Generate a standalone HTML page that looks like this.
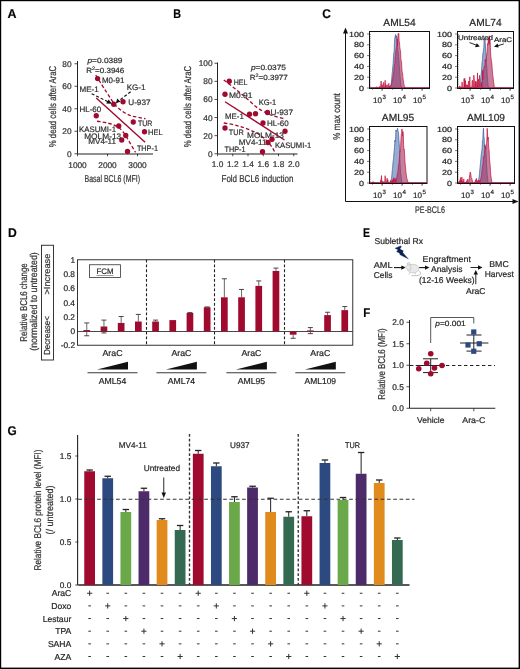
<!DOCTYPE html>
<html><head><meta charset="utf-8"><style>
html,body{margin:0;padding:0;background:#fff;}
svg{display:block;will-change:transform;}
text{font-family:"Liberation Sans", sans-serif;stroke:#333;stroke-width:0.22px;text-rendering:geometricPrecision;}
</style></head><body>
<svg width="520" height="669" viewBox="0 0 520 669">
<rect width="520" height="669" fill="#fff"/>
<rect x="0" y="0" width="520" height="1.2" fill="#000"/><rect x="0" y="0" width="1.2" height="669" fill="#000"/><rect x="518.6" y="0" width="1.4" height="669" fill="#000"/><rect x="0" y="667.6" width="520" height="1.4" fill="#000"/>
<text x="7.6" y="18.1" font-size="12.7" text-anchor="start" font-weight="bold" fill="#000" textLength="9.0" lengthAdjust="spacingAndGlyphs" >A</text>
<text x="173.3" y="18.1" font-size="12.7" text-anchor="start" font-weight="bold" fill="#000" textLength="7.8" lengthAdjust="spacingAndGlyphs" >B</text>
<text x="322.2" y="18.1" font-size="12.7" text-anchor="start" font-weight="bold" fill="#000" textLength="8.6" lengthAdjust="spacingAndGlyphs" >C</text>
<text x="7.9" y="236.5" font-size="12.7" text-anchor="start" font-weight="bold" fill="#000" textLength="8.8" lengthAdjust="spacingAndGlyphs" >D</text>
<text x="363.1" y="236.5" font-size="12.7" text-anchor="start" font-weight="bold" fill="#000" textLength="7.0" lengthAdjust="spacingAndGlyphs" >E</text>
<text x="363.3" y="316.9" font-size="12.7" text-anchor="start" font-weight="bold" fill="#000" textLength="7.0" lengthAdjust="spacingAndGlyphs" >F</text>
<text x="7.5" y="435.2" font-size="12.7" text-anchor="start" font-weight="bold" fill="#000" textLength="9.2" lengthAdjust="spacingAndGlyphs" >G</text>
<line x1="77.5" y1="61" x2="77.5" y2="153.75" stroke="#222" stroke-width="1" />
<line x1="77.5" y1="154" x2="153" y2="154" stroke="#222" stroke-width="1.2" />
<line x1="74.5" y1="153.75" x2="77.5" y2="153.75" stroke="#222" stroke-width="0.8" />
<text x="71.5" y="156.75" font-size="8.3" text-anchor="end" font-weight="normal" fill="#333" >0</text>
<line x1="74.5" y1="131.25" x2="77.5" y2="131.25" stroke="#222" stroke-width="0.8" />
<text x="71.5" y="134.25" font-size="8.3" text-anchor="end" font-weight="normal" fill="#333" >20</text>
<line x1="74.5" y1="108.75" x2="77.5" y2="108.75" stroke="#222" stroke-width="0.8" />
<text x="71.5" y="111.75" font-size="8.3" text-anchor="end" font-weight="normal" fill="#333" >40</text>
<line x1="74.5" y1="86.25" x2="77.5" y2="86.25" stroke="#222" stroke-width="0.8" />
<text x="71.5" y="89.25" font-size="8.3" text-anchor="end" font-weight="normal" fill="#333" >60</text>
<line x1="74.5" y1="63.75" x2="77.5" y2="63.75" stroke="#222" stroke-width="0.8" />
<text x="71.5" y="66.75" font-size="8.3" text-anchor="end" font-weight="normal" fill="#333" >80</text>
<line x1="77.5" y1="153.75" x2="77.5" y2="156.25" stroke="#222" stroke-width="0.8" />
<text x="77.5" y="168" font-size="8.3" text-anchor="middle" font-weight="normal" fill="#333" >1000</text>
<line x1="107.5" y1="153.75" x2="107.5" y2="156.25" stroke="#222" stroke-width="0.8" />
<text x="107.5" y="168" font-size="8.3" text-anchor="middle" font-weight="normal" fill="#333" >2000</text>
<line x1="137.5" y1="153.75" x2="137.5" y2="156.25" stroke="#222" stroke-width="0.8" />
<text x="137.5" y="168" font-size="8.3" text-anchor="middle" font-weight="normal" fill="#333" >3000</text>
<text x="112.3" y="182.3" font-size="10" text-anchor="middle" font-weight="normal" fill="#333" textLength="55.5" lengthAdjust="spacingAndGlyphs" >Basal BCL6 (MFI)</text>
<text transform="translate(56.2,106.5) rotate(-90)" font-size="10" text-anchor="middle" fill="#333" textLength="81.5" lengthAdjust="spacingAndGlyphs">% dead cells after AraC</text>
<text x="105" y="63" font-size="7.5" text-anchor="middle" font-weight="normal" fill="#333" textLength="35" lengthAdjust="spacingAndGlyphs" ><tspan font-style="italic">p</tspan>=0.0389</text>
<text x="105.3" y="73" font-size="7.5" text-anchor="middle" font-weight="normal" fill="#333" textLength="38" lengthAdjust="spacingAndGlyphs" >R<tspan font-size="5" dy="-3">2</tspan><tspan dy="3">=0.3946</tspan></text>
<line x1="96.25" y1="98" x2="145.1" y2="142.2" stroke="#a00a2e" stroke-width="1.4" />
<path d="M95.75,75 Q108,95 115,105 Q124,114 132.5,116.25 L145.5,118.75" fill="none" stroke="#a00a2e" stroke-width="1.3" stroke-dasharray="3.5,2.2"/>
<path d="M97,121.25 Q112,123 118.7,127.5 Q123,131 125.9,136 L135.5,152.3" fill="none" stroke="#a00a2e" stroke-width="1.3" stroke-dasharray="3.5,2.2"/>
<circle cx="97.6" cy="78.6" r="2.65" fill="#a00a2e"/>
<circle cx="113.75" cy="104.25" r="2.65" fill="#a00a2e"/>
<circle cx="123" cy="101.75" r="2.65" fill="#a00a2e"/>
<circle cx="96.25" cy="115.75" r="2.65" fill="#a00a2e"/>
<circle cx="133.25" cy="122" r="2.65" fill="#a00a2e"/>
<circle cx="144.5" cy="131.75" r="2.65" fill="#a00a2e"/>
<circle cx="118.75" cy="126" r="2.65" fill="#a00a2e"/>
<circle cx="125.75" cy="135.5" r="2.65" fill="#a00a2e"/>
<circle cx="121.75" cy="140" r="2.65" fill="#a00a2e"/>
<circle cx="127.5" cy="151.5" r="2.65" fill="#a00a2e"/>
<line x1="91.7" y1="93.7" x2="108.5" y2="102" stroke="#111" stroke-width="1.1" stroke-dasharray="3,2" />
<path d="M112,103.8 L106.2,103.6 L108.6,99.4 Z" fill="#111"/>
<line x1="130.7" y1="91.7" x2="118.8" y2="100.8" stroke="#111" stroke-width="1.1" stroke-dasharray="3,2" />
<path d="M115.8,103.3 L117.3,98.6 L120.5,101.8 Z" fill="#111"/>
<text x="101.9" y="82.9" font-size="7.9" text-anchor="start" font-weight="normal" fill="#333" textLength="22.5" lengthAdjust="spacingAndGlyphs" >M0-91</text>
<text x="79.5" y="91.9" font-size="7.9" text-anchor="start" font-weight="normal" fill="#333" textLength="19.25" lengthAdjust="spacingAndGlyphs" >ME-1</text>
<text x="126.75" y="89.65" font-size="7.9" text-anchor="start" font-weight="normal" fill="#333" textLength="18.75" lengthAdjust="spacingAndGlyphs" >KG-1</text>
<text x="128.25" y="105.4" font-size="7.9" text-anchor="start" font-weight="normal" fill="#333" textLength="22.25" lengthAdjust="spacingAndGlyphs" >U-937</text>
<text x="79.5" y="111.65" font-size="7.9" text-anchor="start" font-weight="normal" fill="#333" textLength="21.75" lengthAdjust="spacingAndGlyphs" >HL-60</text>
<text x="137.9" y="126.2" font-size="7.9" text-anchor="start" font-weight="normal" fill="#333" textLength="14.4" lengthAdjust="spacingAndGlyphs" >TUR</text>
<text x="148.1" y="135.4" font-size="7.9" text-anchor="start" font-weight="normal" fill="#333" textLength="14.6" lengthAdjust="spacingAndGlyphs" >HEL</text>
<text x="79" y="132.15" font-size="7.9" text-anchor="start" font-weight="normal" fill="#333" textLength="37" lengthAdjust="spacingAndGlyphs" >KASUMI-1</text>
<text x="84.2" y="139.15" font-size="7.9" text-anchor="start" font-weight="normal" fill="#333" textLength="37" lengthAdjust="spacingAndGlyphs" >MOLM-13</text>
<text x="88.3" y="144.15" font-size="7.9" text-anchor="start" font-weight="normal" fill="#333" textLength="27.7" lengthAdjust="spacingAndGlyphs" >MV4-11</text>
<text x="136.9" y="150.9" font-size="7.9" text-anchor="start" font-weight="normal" fill="#333" textLength="21.1" lengthAdjust="spacingAndGlyphs" >THP-1</text>
<line x1="217.5" y1="62.5" x2="217.5" y2="153.75" stroke="#222" stroke-width="1" />
<line x1="217.5" y1="154" x2="297.5" y2="154" stroke="#222" stroke-width="1.2" />
<line x1="214.5" y1="153.75" x2="217.5" y2="153.75" stroke="#222" stroke-width="0.8" />
<text x="212.5" y="156.75" font-size="8.3" text-anchor="end" font-weight="normal" fill="#333" >0</text>
<line x1="214.5" y1="135.65" x2="217.5" y2="135.65" stroke="#222" stroke-width="0.8" />
<text x="212.5" y="138.65" font-size="8.3" text-anchor="end" font-weight="normal" fill="#333" >20</text>
<line x1="214.5" y1="117.55" x2="217.5" y2="117.55" stroke="#222" stroke-width="0.8" />
<text x="212.5" y="120.55" font-size="8.3" text-anchor="end" font-weight="normal" fill="#333" >40</text>
<line x1="214.5" y1="99.45" x2="217.5" y2="99.45" stroke="#222" stroke-width="0.8" />
<text x="212.5" y="102.45" font-size="8.3" text-anchor="end" font-weight="normal" fill="#333" >60</text>
<line x1="214.5" y1="81.35" x2="217.5" y2="81.35" stroke="#222" stroke-width="0.8" />
<text x="212.5" y="84.35" font-size="8.3" text-anchor="end" font-weight="normal" fill="#333" >80</text>
<line x1="214.5" y1="63.249999999999986" x2="217.5" y2="63.249999999999986" stroke="#222" stroke-width="0.8" />
<text x="212.5" y="66.24999999999999" font-size="8.3" text-anchor="end" font-weight="normal" fill="#333" >100</text>
<line x1="217.5" y1="153.75" x2="217.5" y2="156.25" stroke="#222" stroke-width="0.8" />
<text x="217.5" y="167.2" font-size="8.3" text-anchor="middle" font-weight="normal" fill="#333" >1.0</text>
<line x1="232.75" y1="153.75" x2="232.75" y2="156.25" stroke="#222" stroke-width="0.8" />
<text x="232.75" y="167.2" font-size="8.3" text-anchor="middle" font-weight="normal" fill="#333" >1.2</text>
<line x1="248.0" y1="153.75" x2="248.0" y2="156.25" stroke="#222" stroke-width="0.8" />
<text x="248.0" y="167.2" font-size="8.3" text-anchor="middle" font-weight="normal" fill="#333" >1.4</text>
<line x1="263.25" y1="153.75" x2="263.25" y2="156.25" stroke="#222" stroke-width="0.8" />
<text x="263.25" y="167.2" font-size="8.3" text-anchor="middle" font-weight="normal" fill="#333" >1.6</text>
<line x1="278.5" y1="153.75" x2="278.5" y2="156.25" stroke="#222" stroke-width="0.8" />
<text x="278.5" y="167.2" font-size="8.3" text-anchor="middle" font-weight="normal" fill="#333" >1.8</text>
<line x1="293.75" y1="153.75" x2="293.75" y2="156.25" stroke="#222" stroke-width="0.8" />
<text x="293.75" y="167.2" font-size="8.3" text-anchor="middle" font-weight="normal" fill="#333" >2.0</text>
<text x="257.5" y="181.5" font-size="10" text-anchor="middle" font-weight="normal" fill="#333" textLength="72" lengthAdjust="spacingAndGlyphs" >Fold BCL6 induction</text>
<text transform="translate(191.2,106.5) rotate(-90)" font-size="10" text-anchor="middle" fill="#333" textLength="81.5" lengthAdjust="spacingAndGlyphs">% dead cells after AraC</text>
<text x="268.5" y="70" font-size="7.5" text-anchor="middle" font-weight="normal" fill="#333" textLength="35" lengthAdjust="spacingAndGlyphs" ><tspan font-style="italic">p</tspan>=0.0375</text>
<text x="268.8" y="79.5" font-size="7.5" text-anchor="middle" font-weight="normal" fill="#333" textLength="38" lengthAdjust="spacingAndGlyphs" >R<tspan font-size="5" dy="-3">2</tspan><tspan dy="3">=0.3977</tspan></text>
<line x1="225" y1="101.75" x2="284.5" y2="140" stroke="#a00a2e" stroke-width="1.4" />
<path d="M223.75,80 Q240,92 255,106 Q268,116 285,118.75" fill="none" stroke="#a00a2e" stroke-width="1.3" stroke-dasharray="3.5,2.2"/>
<path d="M223.75,123 Q245,126 260,135 Q270,142 275,152.5" fill="none" stroke="#a00a2e" stroke-width="1.3" stroke-dasharray="3.5,2.2"/>
<circle cx="229.25" cy="81.25" r="2.65" fill="#a00a2e"/>
<circle cx="225" cy="94.25" r="2.65" fill="#a00a2e"/>
<circle cx="249.5" cy="114.25" r="2.65" fill="#a00a2e"/>
<circle cx="255.5" cy="113.75" r="2.65" fill="#a00a2e"/>
<circle cx="267.5" cy="112.5" r="2.65" fill="#a00a2e"/>
<circle cx="263" cy="123" r="2.65" fill="#a00a2e"/>
<circle cx="225" cy="128" r="2.65" fill="#a00a2e"/>
<circle cx="272" cy="139.25" r="2.65" fill="#a00a2e"/>
<circle cx="285" cy="131.25" r="2.65" fill="#a00a2e"/>
<circle cx="268" cy="142.5" r="2.65" fill="#a00a2e"/>
<circle cx="262.5" cy="151.75" r="2.65" fill="#a00a2e"/>
<text x="233.75" y="84.9" font-size="7.9" text-anchor="start" font-weight="normal" fill="#333" textLength="13.75" lengthAdjust="spacingAndGlyphs" >HEL</text>
<text x="229" y="97.9" font-size="7.9" text-anchor="start" font-weight="normal" fill="#333" textLength="23.5" lengthAdjust="spacingAndGlyphs" >M0.91</text>
<text x="258.75" y="104.65" font-size="7.9" text-anchor="start" font-weight="normal" fill="#333" textLength="17.5" lengthAdjust="spacingAndGlyphs" >KG-1</text>
<text x="270.5" y="115.4" font-size="7.9" text-anchor="start" font-weight="normal" fill="#333" textLength="22.5" lengthAdjust="spacingAndGlyphs" >U-937</text>
<text x="225" y="119.15" font-size="7.9" text-anchor="start" font-weight="normal" fill="#333" textLength="18.75" lengthAdjust="spacingAndGlyphs" >ME-1</text>
<text x="267" y="125.9" font-size="7.9" text-anchor="start" font-weight="normal" fill="#333" textLength="21.75" lengthAdjust="spacingAndGlyphs" >HL-60</text>
<text x="228.75" y="135.4" font-size="7.9" text-anchor="start" font-weight="normal" fill="#333" textLength="15" lengthAdjust="spacingAndGlyphs" >TUR</text>
<text x="247" y="137.9" font-size="7.9" text-anchor="start" font-weight="normal" fill="#333" textLength="36.9" lengthAdjust="spacingAndGlyphs" >MOLM-13</text>
<text x="238.8" y="144.65" font-size="7.9" text-anchor="start" font-weight="normal" fill="#333" textLength="27.7" lengthAdjust="spacingAndGlyphs" >MV4-11</text>
<text x="275" y="148.4" font-size="7.9" text-anchor="start" font-weight="normal" fill="#333" textLength="36.2" lengthAdjust="spacingAndGlyphs" >KASUMI-1</text>
<text x="224.5" y="152.4" font-size="7.9" text-anchor="start" font-weight="normal" fill="#333" textLength="21" lengthAdjust="spacingAndGlyphs" >THP-1</text>
<path d="M370.1,87.9 L370.10,87.90 L370.43,87.90 L370.77,87.90 L371.10,87.90 L371.44,87.90 L371.77,87.90 L372.10,87.90 L372.44,87.90 L372.77,87.90 L373.11,87.90 L373.44,87.90 L373.78,87.90 L374.11,87.90 L374.44,87.90 L374.78,87.90 L375.11,87.90 L375.45,87.90 L375.78,87.90 L376.11,87.90 L376.45,87.90 L376.78,87.90 L377.12,87.90 L377.45,87.90 L377.78,87.90 L378.12,87.90 L378.45,87.90 L378.79,87.90 L379.12,87.90 L379.45,87.90 L379.79,87.90 L380.12,87.90 L380.46,87.90 L380.79,87.90 L381.12,87.90 L381.46,87.90 L381.79,87.90 L382.13,87.90 L382.46,87.90 L382.80,87.90 L383.13,87.90 L383.46,87.90 L383.80,87.90 L384.13,87.90 L384.47,87.90 L384.80,87.90 L385.13,87.90 L385.47,87.90 L385.80,87.90 L386.14,87.90 L386.47,87.90 L386.80,87.90 L387.14,87.90 L387.47,87.90 L387.81,87.90 L388.14,87.90 L388.48,87.90 L388.81,87.90 L389.14,87.66 L389.48,87.10 L389.81,86.47 L390.15,86.01 L390.48,85.44 L390.81,84.85 L391.15,84.49 L391.48,81.90 L391.82,77.75 L392.15,73.38 L392.48,70.99 L392.82,66.60 L393.15,63.50 L393.49,56.74 L393.82,52.86 L394.15,51.99 L394.49,42.40 L394.82,37.97 L395.16,36.61 L395.49,34.56 L395.82,36.01 L396.16,38.31 L396.49,35.80 L396.83,42.02 L397.16,44.04 L397.50,46.64 L397.83,50.75 L398.16,51.95 L398.50,56.29 L398.83,58.95 L399.17,64.47 L399.50,68.41 L399.83,73.20 L400.17,77.37 L400.50,82.05 L400.84,85.06 L401.17,85.66 L401.50,86.56 L401.84,87.47 L402.17,87.90 L402.51,87.90 L402.84,87.90 L403.18,87.90 L403.51,87.90 L403.84,87.90 L404.18,87.90 L404.51,87.90 L404.85,87.90 L405.18,87.90 L405.51,87.90 L405.85,87.90 L406.18,87.90 L406.52,87.90 L406.85,87.90 L407.18,87.90 L407.52,87.90 L407.85,87.90 L408.19,87.90 L408.52,87.90 L408.85,87.90 L409.19,87.90 L409.52,87.90 L409.86,87.90 L410.19,87.90 L410.52,87.90 L410.86,87.90 L411.19,87.90 L411.53,87.90 L411.86,87.90 L412.20,87.90 L412.53,87.90 L412.86,87.90 L413.20,87.90 L413.53,87.90 L413.87,87.90 L414.20,87.90 L414.53,87.90 L414.87,87.90 L415.20,87.90 L415.54,87.90 L415.87,87.90 L416.20,87.90 L416.54,87.90 L416.87,87.90 L417.21,87.90 L417.54,87.90 L417.88,87.90 L418.21,87.90 L418.54,87.90 L418.88,87.90 L419.21,87.90 L419.55,87.90 L419.88,87.90 L420.21,87.90 L420.55,87.90 L420.88,87.90 L421.22,87.90 L421.55,87.90 L421.88,87.90 L422.22,87.90 L422.55,87.90 L422.89,87.90 L423.22,87.90 L423.55,87.90 L423.89,87.90 L424.22,87.90 L424.56,87.90 L424.89,87.90 L425.22,87.90 L425.56,87.90 L425.89,87.90 L426.23,87.90 L426.56,87.90 L426.90,87.90 L427.23,87.90 L427.56,87.90 L427.90,87.90 L428.23,87.90 L428.57,87.90 L428.90,87.90 L428.9,87.9 Z" fill="#98abd0" stroke="#3a5c9c" stroke-width="0.7" stroke-linejoin="round"/>
<path d="M370.1,87.9 L370.10,87.90 L370.43,87.90 L370.77,87.90 L371.10,87.90 L371.44,87.90 L371.77,87.90 L372.10,87.90 L372.44,87.90 L372.77,87.90 L373.11,87.90 L373.44,87.90 L373.78,87.90 L374.11,87.90 L374.44,87.90 L374.78,87.90 L375.11,87.90 L375.45,87.90 L375.78,87.90 L376.11,87.88 L376.45,86.72 L376.78,87.75 L377.12,87.87 L377.45,87.42 L377.78,87.41 L378.12,87.45 L378.45,87.51 L378.79,87.82 L379.12,87.83 L379.45,86.54 L379.79,87.76 L380.12,86.64 L380.46,85.90 L380.79,85.24 L381.12,81.01 L381.46,87.79 L381.79,87.79 L382.13,84.65 L382.46,86.34 L382.80,87.83 L383.13,85.35 L383.46,82.45 L383.80,83.12 L384.13,87.82 L384.47,87.68 L384.80,87.90 L385.13,80.29 L385.47,87.81 L385.80,84.75 L386.14,87.01 L386.47,86.70 L386.80,87.06 L387.14,84.67 L387.47,86.66 L387.81,87.74 L388.14,87.89 L388.48,87.28 L388.81,83.39 L389.14,87.88 L389.48,86.07 L389.81,86.46 L390.15,87.54 L390.48,86.53 L390.81,85.73 L391.15,85.07 L391.48,83.77 L391.82,83.13 L392.15,80.91 L392.48,79.04 L392.82,77.95 L393.15,75.70 L393.49,73.60 L393.82,71.82 L394.15,66.80 L394.49,64.55 L394.82,63.89 L395.16,56.50 L395.49,55.60 L395.82,51.46 L396.16,48.45 L396.49,47.12 L396.83,46.12 L397.16,38.84 L397.50,45.61 L397.83,36.56 L398.16,33.30 L398.50,33.60 L398.83,33.30 L399.17,42.51 L399.50,42.42 L399.83,47.49 L400.17,49.75 L400.50,50.72 L400.84,58.81 L401.17,60.82 L401.50,61.34 L401.84,68.02 L402.17,72.22 L402.51,72.68 L402.84,76.50 L403.18,79.96 L403.51,81.11 L403.84,83.91 L404.18,85.42 L404.51,86.21 L404.85,87.38 L405.18,87.90 L405.51,87.90 L405.85,87.90 L406.18,87.90 L406.52,87.90 L406.85,87.90 L407.18,87.90 L407.52,87.90 L407.85,87.90 L408.19,87.90 L408.52,87.90 L408.85,87.90 L409.19,87.90 L409.52,87.90 L409.86,87.90 L410.19,87.90 L410.52,87.90 L410.86,87.90 L411.19,87.90 L411.53,87.90 L411.86,87.90 L412.20,87.90 L412.53,87.90 L412.86,87.90 L413.20,87.90 L413.53,87.90 L413.87,87.90 L414.20,87.90 L414.53,87.90 L414.87,87.90 L415.20,87.90 L415.54,87.90 L415.87,87.90 L416.20,87.90 L416.54,87.90 L416.87,87.90 L417.21,87.90 L417.54,87.90 L417.88,87.90 L418.21,87.90 L418.54,87.90 L418.88,87.90 L419.21,87.90 L419.55,87.90 L419.88,87.90 L420.21,87.90 L420.55,87.90 L420.88,87.90 L421.22,87.90 L421.55,87.90 L421.88,87.90 L422.22,87.90 L422.55,87.90 L422.89,87.90 L423.22,87.90 L423.55,87.90 L423.89,87.90 L424.22,87.90 L424.56,87.90 L424.89,87.90 L425.22,87.90 L425.56,87.90 L425.89,87.90 L426.23,87.90 L426.56,87.90 L426.90,87.90 L427.23,87.90 L427.56,87.90 L427.90,87.90 L428.23,87.90 L428.57,87.90 L428.90,87.90 L428.9,87.9 Z" fill="#a83060" fill-opacity="0.62" stroke="#c4123c" stroke-width="0.7" stroke-linejoin="round"/>
<rect x="369.5" y="31.5" width="60.0" height="57.0" fill="none" stroke="#111" stroke-width="1"/>
<text x="399.5" y="25.6" font-size="10.2" text-anchor="middle" font-weight="normal" fill="#222" >AML54</text>
<text x="364.0" y="90.6" font-size="7.4" text-anchor="end" font-weight="normal" fill="#222" textLength="5" lengthAdjust="spacingAndGlyphs" >0</text>
<line x1="367.0" y1="88.0" x2="369.5" y2="88.0" stroke="#222" stroke-width="0.6" />
<text x="364.0" y="79.8" font-size="7.4" text-anchor="end" font-weight="normal" fill="#222" textLength="10" lengthAdjust="spacingAndGlyphs" >20</text>
<line x1="367.0" y1="77.2" x2="369.5" y2="77.2" stroke="#222" stroke-width="0.6" />
<text x="364.0" y="69.0" font-size="7.4" text-anchor="end" font-weight="normal" fill="#222" textLength="10" lengthAdjust="spacingAndGlyphs" >40</text>
<line x1="367.0" y1="66.4" x2="369.5" y2="66.4" stroke="#222" stroke-width="0.6" />
<text x="364.0" y="58.2" font-size="7.4" text-anchor="end" font-weight="normal" fill="#222" textLength="10" lengthAdjust="spacingAndGlyphs" >60</text>
<line x1="367.0" y1="55.6" x2="369.5" y2="55.6" stroke="#222" stroke-width="0.6" />
<text x="364.0" y="47.4" font-size="7.4" text-anchor="end" font-weight="normal" fill="#222" textLength="10" lengthAdjust="spacingAndGlyphs" >80</text>
<line x1="367.0" y1="44.8" x2="369.5" y2="44.8" stroke="#222" stroke-width="0.6" />
<text x="364.0" y="36.6" font-size="7.4" text-anchor="end" font-weight="normal" fill="#222" textLength="15" lengthAdjust="spacingAndGlyphs" >100</text>
<line x1="367.0" y1="34.0" x2="369.5" y2="34.0" stroke="#222" stroke-width="0.6" />
<line x1="369.5" y1="88.5" x2="371.0" y2="88.5" stroke="#222" stroke-width="0.4" />
<line x1="369.5" y1="86.34" x2="371.0" y2="86.34" stroke="#222" stroke-width="0.4" />
<line x1="369.5" y1="84.18" x2="371.0" y2="84.18" stroke="#222" stroke-width="0.4" />
<line x1="369.5" y1="82.02" x2="371.0" y2="82.02" stroke="#222" stroke-width="0.4" />
<line x1="369.5" y1="79.86" x2="371.0" y2="79.86" stroke="#222" stroke-width="0.4" />
<line x1="369.5" y1="77.7" x2="371.0" y2="77.7" stroke="#222" stroke-width="0.4" />
<line x1="369.5" y1="75.53999999999999" x2="371.0" y2="75.53999999999999" stroke="#222" stroke-width="0.4" />
<line x1="369.5" y1="73.38" x2="371.0" y2="73.38" stroke="#222" stroke-width="0.4" />
<line x1="369.5" y1="71.22" x2="371.0" y2="71.22" stroke="#222" stroke-width="0.4" />
<line x1="369.5" y1="69.06" x2="371.0" y2="69.06" stroke="#222" stroke-width="0.4" />
<line x1="369.5" y1="66.9" x2="371.0" y2="66.9" stroke="#222" stroke-width="0.4" />
<line x1="369.5" y1="64.74" x2="371.0" y2="64.74" stroke="#222" stroke-width="0.4" />
<line x1="369.5" y1="62.58" x2="371.0" y2="62.58" stroke="#222" stroke-width="0.4" />
<line x1="369.5" y1="60.42" x2="371.0" y2="60.42" stroke="#222" stroke-width="0.4" />
<line x1="369.5" y1="58.260000000000005" x2="371.0" y2="58.260000000000005" stroke="#222" stroke-width="0.4" />
<line x1="369.5" y1="56.1" x2="371.0" y2="56.1" stroke="#222" stroke-width="0.4" />
<line x1="369.5" y1="53.94" x2="371.0" y2="53.94" stroke="#222" stroke-width="0.4" />
<line x1="369.5" y1="51.78" x2="371.0" y2="51.78" stroke="#222" stroke-width="0.4" />
<line x1="369.5" y1="49.62" x2="371.0" y2="49.62" stroke="#222" stroke-width="0.4" />
<line x1="369.5" y1="47.46" x2="371.0" y2="47.46" stroke="#222" stroke-width="0.4" />
<line x1="369.5" y1="45.3" x2="371.0" y2="45.3" stroke="#222" stroke-width="0.4" />
<line x1="369.5" y1="43.14" x2="371.0" y2="43.14" stroke="#222" stroke-width="0.4" />
<line x1="369.5" y1="40.98" x2="371.0" y2="40.98" stroke="#222" stroke-width="0.4" />
<line x1="369.5" y1="38.82" x2="371.0" y2="38.82" stroke="#222" stroke-width="0.4" />
<line x1="369.5" y1="36.66" x2="371.0" y2="36.66" stroke="#222" stroke-width="0.4" />
<line x1="369.5" y1="34.5" x2="371.0" y2="34.5" stroke="#222" stroke-width="0.4" />
<text x="373.0" y="102.7" font-size="8" fill="#222" textLength="9" lengthAdjust="spacingAndGlyphs">10</text>
<text transform="translate(382.5,99.1) scale(0.1)" font-size="62" fill="#222" style="stroke-width:2px">3</text>
<line x1="382.0" y1="88.5" x2="382.0" y2="91.0" stroke="#222" stroke-width="0.6" />
<text x="393.0" y="102.7" font-size="8" fill="#222" textLength="9" lengthAdjust="spacingAndGlyphs">10</text>
<text transform="translate(402.5,99.1) scale(0.1)" font-size="62" fill="#222" style="stroke-width:2px">4</text>
<line x1="402.0" y1="88.5" x2="402.0" y2="91.0" stroke="#222" stroke-width="0.6" />
<text x="413.0" y="102.7" font-size="8" fill="#222" textLength="9" lengthAdjust="spacingAndGlyphs">10</text>
<text transform="translate(422.5,99.1) scale(0.1)" font-size="62" fill="#222" style="stroke-width:2px">5</text>
<line x1="422.0" y1="88.5" x2="422.0" y2="91.0" stroke="#222" stroke-width="0.6" />
<line x1="372.5" y1="88.5" x2="372.5" y2="90.0" stroke="#222" stroke-width="0.4" />
<line x1="382.5" y1="88.5" x2="382.5" y2="90.0" stroke="#222" stroke-width="0.4" />
<line x1="392.5" y1="88.5" x2="392.5" y2="90.0" stroke="#222" stroke-width="0.4" />
<line x1="402.5" y1="88.5" x2="402.5" y2="90.0" stroke="#222" stroke-width="0.4" />
<line x1="412.5" y1="88.5" x2="412.5" y2="90.0" stroke="#222" stroke-width="0.4" />
<line x1="422.5" y1="88.5" x2="422.5" y2="90.0" stroke="#222" stroke-width="0.4" />
<path d="M458.1,87.9 L458.10,87.90 L458.43,87.90 L458.77,87.90 L459.10,87.90 L459.44,87.90 L459.77,87.90 L460.10,87.90 L460.44,87.90 L460.77,87.90 L461.11,87.90 L461.44,87.90 L461.78,87.90 L462.11,87.90 L462.44,87.90 L462.78,87.90 L463.11,87.90 L463.45,87.90 L463.78,87.90 L464.11,87.90 L464.45,87.90 L464.78,87.90 L465.12,87.90 L465.45,87.90 L465.79,87.90 L466.12,87.90 L466.45,87.90 L466.79,87.90 L467.12,87.90 L467.46,87.90 L467.79,87.90 L468.12,87.90 L468.46,87.90 L468.79,87.90 L469.13,87.90 L469.46,87.90 L469.80,87.90 L470.13,87.90 L470.46,87.90 L470.80,87.90 L471.13,87.90 L471.47,87.90 L471.80,87.90 L472.13,87.90 L472.47,87.90 L472.80,87.90 L473.14,87.90 L473.47,87.90 L473.80,87.90 L474.14,87.90 L474.47,87.90 L474.81,87.90 L475.14,87.90 L475.48,87.90 L475.81,87.90 L476.14,87.90 L476.48,87.90 L476.81,87.90 L477.15,87.90 L477.48,87.90 L477.81,87.90 L478.15,87.63 L478.48,86.96 L478.82,86.32 L479.15,85.72 L479.49,85.19 L479.82,84.30 L480.15,83.63 L480.49,81.33 L480.82,77.44 L481.16,74.08 L481.49,70.92 L481.82,66.15 L482.16,61.54 L482.49,59.76 L482.83,53.29 L483.16,52.74 L483.50,49.58 L483.83,47.57 L484.16,38.86 L484.50,38.26 L484.83,38.85 L485.17,42.03 L485.50,47.07 L485.83,51.20 L486.17,56.39 L486.50,63.83 L486.84,67.32 L487.17,74.11 L487.50,78.87 L487.84,82.75 L488.17,85.76 L488.51,86.47 L488.84,87.47 L489.18,87.90 L489.51,87.90 L489.84,87.90 L490.18,87.90 L490.51,87.90 L490.85,87.90 L491.18,87.90 L491.51,87.90 L491.85,87.90 L492.18,87.90 L492.52,87.90 L492.85,87.90 L493.19,87.90 L493.52,87.90 L493.85,87.90 L494.19,87.90 L494.52,87.90 L494.86,87.90 L495.19,87.90 L495.52,87.90 L495.86,87.90 L496.19,87.90 L496.53,87.90 L496.86,87.90 L497.20,87.90 L497.53,87.90 L497.86,87.90 L498.20,87.90 L498.53,87.90 L498.87,87.90 L499.20,87.90 L499.53,87.90 L499.87,87.90 L500.20,87.90 L500.54,87.90 L500.87,87.90 L501.20,87.90 L501.54,87.90 L501.87,87.90 L502.21,87.90 L502.54,87.90 L502.88,87.90 L503.21,87.90 L503.54,87.90 L503.88,87.90 L504.21,87.90 L504.55,87.90 L504.88,87.90 L505.21,87.90 L505.55,87.90 L505.88,87.90 L506.22,87.90 L506.55,87.90 L506.89,87.90 L507.22,87.90 L507.55,87.90 L507.89,87.90 L508.22,87.90 L508.56,87.90 L508.89,87.90 L509.22,87.90 L509.56,87.90 L509.89,87.90 L510.23,87.90 L510.56,87.90 L510.90,87.90 L511.23,87.90 L511.56,87.90 L511.90,87.90 L512.23,87.90 L512.57,87.90 L512.90,87.90 L512.9,87.9 Z" fill="#98abd0" stroke="#3a5c9c" stroke-width="0.7" stroke-linejoin="round"/>
<path d="M458.1,87.9 L458.10,87.90 L458.43,87.90 L458.77,87.90 L459.10,87.89 L459.44,87.88 L459.77,85.81 L460.10,87.84 L460.44,87.88 L460.77,86.92 L461.11,87.18 L461.44,87.80 L461.78,87.31 L462.11,82.03 L462.44,87.88 L462.78,87.84 L463.11,87.90 L463.45,87.76 L463.78,87.89 L464.11,78.52 L464.45,87.59 L464.78,78.39 L465.12,87.88 L465.45,80.64 L465.79,86.62 L466.12,84.66 L466.45,85.05 L466.79,87.71 L467.12,87.78 L467.46,84.82 L467.79,87.88 L468.12,87.90 L468.46,81.14 L468.79,84.16 L469.13,87.64 L469.46,85.82 L469.80,76.79 L470.13,87.58 L470.46,87.87 L470.80,86.83 L471.13,87.83 L471.47,87.16 L471.80,87.90 L472.13,81.33 L472.47,80.17 L472.80,87.13 L473.14,87.11 L473.47,87.65 L473.80,75.11 L474.14,77.93 L474.47,83.62 L474.81,87.82 L475.14,87.82 L475.48,81.24 L475.81,87.80 L476.14,81.48 L476.48,86.43 L476.81,87.90 L477.15,87.75 L477.48,72.92 L477.81,87.24 L478.15,81.86 L478.48,79.22 L478.82,86.66 L479.15,85.46 L479.49,75.39 L479.82,80.35 L480.15,85.12 L480.49,84.72 L480.82,86.13 L481.16,86.37 L481.49,81.96 L481.82,87.62 L482.16,86.02 L482.49,70.31 L482.83,79.92 L483.16,75.06 L483.50,71.81 L483.83,68.28 L484.16,67.06 L484.50,66.05 L484.83,67.07 L485.17,59.46 L485.50,61.48 L485.83,59.76 L486.17,58.61 L486.50,56.24 L486.84,54.54 L487.17,51.79 L487.50,43.79 L487.84,45.01 L488.17,40.71 L488.51,37.78 L488.84,43.37 L489.18,35.76 L489.51,44.45 L489.84,39.93 L490.18,42.63 L490.51,51.18 L490.85,56.43 L491.18,59.22 L491.51,61.12 L491.85,64.05 L492.18,68.59 L492.52,72.95 L492.85,75.92 L493.19,78.23 L493.52,81.96 L493.85,83.71 L494.19,86.08 L494.52,87.90 L494.86,87.90 L495.19,87.90 L495.52,87.90 L495.86,87.90 L496.19,87.90 L496.53,87.90 L496.86,87.90 L497.20,87.90 L497.53,87.90 L497.86,87.90 L498.20,87.90 L498.53,87.90 L498.87,87.90 L499.20,87.90 L499.53,87.90 L499.87,87.90 L500.20,87.90 L500.54,87.90 L500.87,87.90 L501.20,87.90 L501.54,87.90 L501.87,87.90 L502.21,87.90 L502.54,87.90 L502.88,87.90 L503.21,87.90 L503.54,87.90 L503.88,87.90 L504.21,87.90 L504.55,87.90 L504.88,87.90 L505.21,87.90 L505.55,87.90 L505.88,87.90 L506.22,87.90 L506.55,87.90 L506.89,87.90 L507.22,87.90 L507.55,87.90 L507.89,87.90 L508.22,87.90 L508.56,87.90 L508.89,87.90 L509.22,87.90 L509.56,87.90 L509.89,87.90 L510.23,87.90 L510.56,87.90 L510.90,87.90 L511.23,87.90 L511.56,87.90 L511.90,87.90 L512.23,87.90 L512.57,87.90 L512.90,87.90 L512.9,87.9 Z" fill="#a83060" fill-opacity="0.62" stroke="#c4123c" stroke-width="0.7" stroke-linejoin="round"/>
<rect x="457.5" y="31.5" width="56.0" height="57.0" fill="none" stroke="#111" stroke-width="1"/>
<text x="485.5" y="25.6" font-size="10.2" text-anchor="middle" font-weight="normal" fill="#222" >AML74</text>
<text x="452.0" y="90.6" font-size="7.4" text-anchor="end" font-weight="normal" fill="#222" textLength="5" lengthAdjust="spacingAndGlyphs" >0</text>
<line x1="455.0" y1="88.0" x2="457.5" y2="88.0" stroke="#222" stroke-width="0.6" />
<text x="452.0" y="79.8" font-size="7.4" text-anchor="end" font-weight="normal" fill="#222" textLength="10" lengthAdjust="spacingAndGlyphs" >20</text>
<line x1="455.0" y1="77.2" x2="457.5" y2="77.2" stroke="#222" stroke-width="0.6" />
<text x="452.0" y="69.0" font-size="7.4" text-anchor="end" font-weight="normal" fill="#222" textLength="10" lengthAdjust="spacingAndGlyphs" >40</text>
<line x1="455.0" y1="66.4" x2="457.5" y2="66.4" stroke="#222" stroke-width="0.6" />
<text x="452.0" y="58.2" font-size="7.4" text-anchor="end" font-weight="normal" fill="#222" textLength="10" lengthAdjust="spacingAndGlyphs" >60</text>
<line x1="455.0" y1="55.6" x2="457.5" y2="55.6" stroke="#222" stroke-width="0.6" />
<text x="452.0" y="47.4" font-size="7.4" text-anchor="end" font-weight="normal" fill="#222" textLength="10" lengthAdjust="spacingAndGlyphs" >80</text>
<line x1="455.0" y1="44.8" x2="457.5" y2="44.8" stroke="#222" stroke-width="0.6" />
<text x="452.0" y="36.6" font-size="7.4" text-anchor="end" font-weight="normal" fill="#222" textLength="15" lengthAdjust="spacingAndGlyphs" >100</text>
<line x1="455.0" y1="34.0" x2="457.5" y2="34.0" stroke="#222" stroke-width="0.6" />
<line x1="457.5" y1="88.5" x2="459.0" y2="88.5" stroke="#222" stroke-width="0.4" />
<line x1="457.5" y1="86.34" x2="459.0" y2="86.34" stroke="#222" stroke-width="0.4" />
<line x1="457.5" y1="84.18" x2="459.0" y2="84.18" stroke="#222" stroke-width="0.4" />
<line x1="457.5" y1="82.02" x2="459.0" y2="82.02" stroke="#222" stroke-width="0.4" />
<line x1="457.5" y1="79.86" x2="459.0" y2="79.86" stroke="#222" stroke-width="0.4" />
<line x1="457.5" y1="77.7" x2="459.0" y2="77.7" stroke="#222" stroke-width="0.4" />
<line x1="457.5" y1="75.53999999999999" x2="459.0" y2="75.53999999999999" stroke="#222" stroke-width="0.4" />
<line x1="457.5" y1="73.38" x2="459.0" y2="73.38" stroke="#222" stroke-width="0.4" />
<line x1="457.5" y1="71.22" x2="459.0" y2="71.22" stroke="#222" stroke-width="0.4" />
<line x1="457.5" y1="69.06" x2="459.0" y2="69.06" stroke="#222" stroke-width="0.4" />
<line x1="457.5" y1="66.9" x2="459.0" y2="66.9" stroke="#222" stroke-width="0.4" />
<line x1="457.5" y1="64.74" x2="459.0" y2="64.74" stroke="#222" stroke-width="0.4" />
<line x1="457.5" y1="62.58" x2="459.0" y2="62.58" stroke="#222" stroke-width="0.4" />
<line x1="457.5" y1="60.42" x2="459.0" y2="60.42" stroke="#222" stroke-width="0.4" />
<line x1="457.5" y1="58.260000000000005" x2="459.0" y2="58.260000000000005" stroke="#222" stroke-width="0.4" />
<line x1="457.5" y1="56.1" x2="459.0" y2="56.1" stroke="#222" stroke-width="0.4" />
<line x1="457.5" y1="53.94" x2="459.0" y2="53.94" stroke="#222" stroke-width="0.4" />
<line x1="457.5" y1="51.78" x2="459.0" y2="51.78" stroke="#222" stroke-width="0.4" />
<line x1="457.5" y1="49.62" x2="459.0" y2="49.62" stroke="#222" stroke-width="0.4" />
<line x1="457.5" y1="47.46" x2="459.0" y2="47.46" stroke="#222" stroke-width="0.4" />
<line x1="457.5" y1="45.3" x2="459.0" y2="45.3" stroke="#222" stroke-width="0.4" />
<line x1="457.5" y1="43.14" x2="459.0" y2="43.14" stroke="#222" stroke-width="0.4" />
<line x1="457.5" y1="40.98" x2="459.0" y2="40.98" stroke="#222" stroke-width="0.4" />
<line x1="457.5" y1="38.82" x2="459.0" y2="38.82" stroke="#222" stroke-width="0.4" />
<line x1="457.5" y1="36.66" x2="459.0" y2="36.66" stroke="#222" stroke-width="0.4" />
<line x1="457.5" y1="34.5" x2="459.0" y2="34.5" stroke="#222" stroke-width="0.4" />
<text x="461.0" y="102.7" font-size="8" fill="#222" textLength="9" lengthAdjust="spacingAndGlyphs">10</text>
<text transform="translate(470.5,99.1) scale(0.1)" font-size="62" fill="#222" style="stroke-width:2px">3</text>
<line x1="470.0" y1="88.5" x2="470.0" y2="91.0" stroke="#222" stroke-width="0.6" />
<text x="481.0" y="102.7" font-size="8" fill="#222" textLength="9" lengthAdjust="spacingAndGlyphs">10</text>
<text transform="translate(490.5,99.1) scale(0.1)" font-size="62" fill="#222" style="stroke-width:2px">4</text>
<line x1="490.0" y1="88.5" x2="490.0" y2="91.0" stroke="#222" stroke-width="0.6" />
<text x="501.0" y="102.7" font-size="8" fill="#222" textLength="9" lengthAdjust="spacingAndGlyphs">10</text>
<text transform="translate(510.5,99.1) scale(0.1)" font-size="62" fill="#222" style="stroke-width:2px">5</text>
<line x1="510.0" y1="88.5" x2="510.0" y2="91.0" stroke="#222" stroke-width="0.6" />
<line x1="460.5" y1="88.5" x2="460.5" y2="90.0" stroke="#222" stroke-width="0.4" />
<line x1="470.5" y1="88.5" x2="470.5" y2="90.0" stroke="#222" stroke-width="0.4" />
<line x1="480.5" y1="88.5" x2="480.5" y2="90.0" stroke="#222" stroke-width="0.4" />
<line x1="490.5" y1="88.5" x2="490.5" y2="90.0" stroke="#222" stroke-width="0.4" />
<line x1="500.5" y1="88.5" x2="500.5" y2="90.0" stroke="#222" stroke-width="0.4" />
<line x1="510.5" y1="88.5" x2="510.5" y2="90.0" stroke="#222" stroke-width="0.4" />
<path d="M370.1,182.9 L370.10,182.90 L370.44,182.90 L370.77,182.90 L371.11,182.90 L371.44,182.90 L371.78,182.90 L372.11,182.90 L372.45,182.90 L372.78,182.90 L373.12,182.90 L373.45,182.90 L373.79,182.90 L374.12,182.90 L374.46,182.90 L374.79,182.90 L375.13,182.90 L375.46,182.90 L375.80,182.90 L376.13,182.90 L376.47,182.90 L376.80,182.90 L377.14,182.90 L377.47,182.90 L377.81,182.90 L378.14,182.90 L378.48,182.90 L378.81,182.90 L379.15,182.90 L379.48,182.90 L379.82,182.90 L380.15,182.90 L380.49,182.90 L380.82,182.90 L381.16,182.90 L381.49,182.90 L381.83,182.90 L382.16,182.90 L382.50,182.90 L382.83,182.90 L383.17,182.90 L383.50,182.90 L383.84,182.90 L384.18,182.90 L384.51,182.90 L384.85,182.90 L385.18,182.90 L385.52,182.90 L385.85,182.90 L386.19,182.90 L386.52,182.90 L386.86,182.90 L387.19,182.90 L387.53,182.90 L387.86,182.90 L388.20,182.90 L388.53,182.90 L388.87,182.90 L389.20,182.90 L389.54,182.82 L389.87,182.14 L390.21,181.44 L390.54,180.66 L390.88,179.81 L391.21,179.35 L391.55,178.31 L391.88,174.98 L392.22,170.86 L392.55,168.64 L392.89,163.89 L393.22,160.63 L393.56,158.98 L393.89,153.89 L394.23,150.61 L394.56,147.16 L394.90,140.29 L395.23,141.87 L395.57,139.08 L395.90,130.12 L396.24,131.15 L396.57,130.65 L396.91,129.84 L397.24,129.78 L397.58,128.30 L397.91,131.34 L398.25,131.48 L398.59,133.74 L398.92,139.83 L399.26,143.56 L399.59,150.66 L399.93,159.91 L400.26,167.42 L400.60,172.20 L400.93,174.58 L401.27,177.91 L401.60,179.90 L401.94,182.41 L402.27,182.90 L402.61,182.90 L402.94,182.90 L403.28,182.90 L403.61,182.90 L403.95,182.90 L404.28,182.90 L404.62,182.90 L404.95,182.90 L405.29,182.90 L405.62,182.90 L405.96,182.90 L406.29,182.90 L406.63,182.90 L406.96,182.90 L407.30,182.90 L407.63,182.90 L407.97,182.90 L408.30,182.90 L408.64,182.90 L408.97,182.90 L409.31,182.90 L409.64,182.90 L409.98,182.90 L410.31,182.90 L410.65,182.90 L410.98,182.90 L411.32,182.90 L411.65,182.90 L411.99,182.90 L412.32,182.90 L412.66,182.90 L413.00,182.90 L413.33,182.90 L413.67,182.90 L414.00,182.90 L414.34,182.90 L414.67,182.90 L415.01,182.90 L415.34,182.90 L415.68,182.90 L416.01,182.90 L416.35,182.90 L416.68,182.90 L417.02,182.90 L417.35,182.90 L417.69,182.90 L418.02,182.90 L418.36,182.90 L418.69,182.90 L419.03,182.90 L419.36,182.90 L419.70,182.90 L420.03,182.90 L420.37,182.90 L420.70,182.90 L421.04,182.90 L421.37,182.90 L421.71,182.90 L422.04,182.90 L422.38,182.90 L422.71,182.90 L423.05,182.90 L423.38,182.90 L423.72,182.90 L424.05,182.90 L424.39,182.90 L424.72,182.90 L425.06,182.90 L425.39,182.90 L425.73,182.90 L426.06,182.90 L426.40,182.90 L426.4,182.9 Z" fill="#98abd0" stroke="#3a5c9c" stroke-width="0.7" stroke-linejoin="round"/>
<path d="M370.1,182.9 L370.10,182.90 L370.44,182.90 L370.77,182.90 L371.11,182.90 L371.44,182.90 L371.78,182.90 L372.11,182.04 L372.45,182.64 L372.78,181.66 L373.12,182.90 L373.45,181.79 L373.79,182.73 L374.12,182.16 L374.46,182.88 L374.79,182.77 L375.13,182.90 L375.46,182.90 L375.80,182.90 L376.13,182.90 L376.47,182.90 L376.80,182.90 L377.14,182.90 L377.47,182.90 L377.81,182.90 L378.14,182.90 L378.48,182.90 L378.81,182.90 L379.15,182.90 L379.48,182.90 L379.82,182.90 L380.15,182.74 L380.49,182.61 L380.82,179.76 L381.16,182.03 L381.49,175.59 L381.83,181.28 L382.16,182.81 L382.50,181.02 L382.83,181.69 L383.17,182.88 L383.50,181.70 L383.84,182.90 L384.18,182.47 L384.51,181.64 L384.85,180.25 L385.18,175.67 L385.52,181.00 L385.85,182.90 L386.19,182.02 L386.52,182.77 L386.86,179.48 L387.19,178.22 L387.53,182.90 L387.86,179.89 L388.20,182.73 L388.53,182.86 L388.87,182.29 L389.20,182.42 L389.54,182.74 L389.87,182.78 L390.21,182.37 L390.54,180.75 L390.88,182.87 L391.21,182.56 L391.55,182.81 L391.88,180.37 L392.22,182.80 L392.55,180.25 L392.89,182.90 L393.22,178.79 L393.56,182.39 L393.89,177.56 L394.23,179.60 L394.56,178.98 L394.90,182.90 L395.23,180.15 L395.57,181.95 L395.90,178.34 L396.24,181.37 L396.57,179.41 L396.91,176.61 L397.24,174.13 L397.58,173.32 L397.91,171.22 L398.25,167.85 L398.59,164.47 L398.92,164.29 L399.26,159.68 L399.59,156.91 L399.93,150.76 L400.26,151.55 L400.60,147.69 L400.93,139.91 L401.27,134.37 L401.60,133.52 L401.94,128.94 L402.27,132.34 L402.61,136.24 L402.94,131.44 L403.28,135.38 L403.61,145.62 L403.95,149.42 L404.28,149.07 L404.62,154.39 L404.95,161.94 L405.29,165.07 L405.62,167.71 L405.96,172.21 L406.29,174.65 L406.63,177.28 L406.96,178.87 L407.30,179.82 L407.63,180.81 L407.97,181.86 L408.30,182.45 L408.64,182.90 L408.97,182.90 L409.31,182.90 L409.64,182.90 L409.98,182.90 L410.31,182.90 L410.65,182.90 L410.98,182.90 L411.32,182.90 L411.65,182.90 L411.99,182.90 L412.32,182.90 L412.66,182.90 L413.00,182.90 L413.33,182.90 L413.67,182.90 L414.00,182.90 L414.34,182.90 L414.67,182.90 L415.01,182.90 L415.34,182.90 L415.68,182.90 L416.01,182.90 L416.35,182.90 L416.68,182.90 L417.02,182.90 L417.35,182.90 L417.69,182.90 L418.02,182.90 L418.36,182.90 L418.69,182.90 L419.03,182.90 L419.36,182.90 L419.70,182.90 L420.03,182.90 L420.37,182.90 L420.70,182.90 L421.04,182.90 L421.37,182.90 L421.71,182.90 L422.04,182.90 L422.38,182.90 L422.71,182.90 L423.05,182.90 L423.38,182.90 L423.72,182.90 L424.05,182.90 L424.39,182.90 L424.72,182.90 L425.06,182.90 L425.39,182.90 L425.73,182.90 L426.06,182.90 L426.40,182.90 L426.4,182.9 Z" fill="#a83060" fill-opacity="0.62" stroke="#c4123c" stroke-width="0.7" stroke-linejoin="round"/>
<rect x="369.5" y="126.5" width="57.5" height="57.0" fill="none" stroke="#111" stroke-width="1"/>
<text x="398" y="120.6" font-size="10.2" text-anchor="middle" font-weight="normal" fill="#222" >AML95</text>
<text x="364.0" y="185.6" font-size="7.4" text-anchor="end" font-weight="normal" fill="#222" textLength="5" lengthAdjust="spacingAndGlyphs" >0</text>
<line x1="367.0" y1="183.0" x2="369.5" y2="183.0" stroke="#222" stroke-width="0.6" />
<text x="364.0" y="174.79999999999998" font-size="7.4" text-anchor="end" font-weight="normal" fill="#222" textLength="10" lengthAdjust="spacingAndGlyphs" >20</text>
<line x1="367.0" y1="172.2" x2="369.5" y2="172.2" stroke="#222" stroke-width="0.6" />
<text x="364.0" y="164.0" font-size="7.4" text-anchor="end" font-weight="normal" fill="#222" textLength="10" lengthAdjust="spacingAndGlyphs" >40</text>
<line x1="367.0" y1="161.4" x2="369.5" y2="161.4" stroke="#222" stroke-width="0.6" />
<text x="364.0" y="153.2" font-size="7.4" text-anchor="end" font-weight="normal" fill="#222" textLength="10" lengthAdjust="spacingAndGlyphs" >60</text>
<line x1="367.0" y1="150.6" x2="369.5" y2="150.6" stroke="#222" stroke-width="0.6" />
<text x="364.0" y="142.4" font-size="7.4" text-anchor="end" font-weight="normal" fill="#222" textLength="10" lengthAdjust="spacingAndGlyphs" >80</text>
<line x1="367.0" y1="139.8" x2="369.5" y2="139.8" stroke="#222" stroke-width="0.6" />
<text x="364.0" y="131.6" font-size="7.4" text-anchor="end" font-weight="normal" fill="#222" textLength="15" lengthAdjust="spacingAndGlyphs" >100</text>
<line x1="367.0" y1="129.0" x2="369.5" y2="129.0" stroke="#222" stroke-width="0.6" />
<line x1="369.5" y1="183.5" x2="371.0" y2="183.5" stroke="#222" stroke-width="0.4" />
<line x1="369.5" y1="181.34" x2="371.0" y2="181.34" stroke="#222" stroke-width="0.4" />
<line x1="369.5" y1="179.18" x2="371.0" y2="179.18" stroke="#222" stroke-width="0.4" />
<line x1="369.5" y1="177.02" x2="371.0" y2="177.02" stroke="#222" stroke-width="0.4" />
<line x1="369.5" y1="174.86" x2="371.0" y2="174.86" stroke="#222" stroke-width="0.4" />
<line x1="369.5" y1="172.7" x2="371.0" y2="172.7" stroke="#222" stroke-width="0.4" />
<line x1="369.5" y1="170.54" x2="371.0" y2="170.54" stroke="#222" stroke-width="0.4" />
<line x1="369.5" y1="168.38" x2="371.0" y2="168.38" stroke="#222" stroke-width="0.4" />
<line x1="369.5" y1="166.22" x2="371.0" y2="166.22" stroke="#222" stroke-width="0.4" />
<line x1="369.5" y1="164.06" x2="371.0" y2="164.06" stroke="#222" stroke-width="0.4" />
<line x1="369.5" y1="161.9" x2="371.0" y2="161.9" stroke="#222" stroke-width="0.4" />
<line x1="369.5" y1="159.74" x2="371.0" y2="159.74" stroke="#222" stroke-width="0.4" />
<line x1="369.5" y1="157.57999999999998" x2="371.0" y2="157.57999999999998" stroke="#222" stroke-width="0.4" />
<line x1="369.5" y1="155.42000000000002" x2="371.0" y2="155.42000000000002" stroke="#222" stroke-width="0.4" />
<line x1="369.5" y1="153.26" x2="371.0" y2="153.26" stroke="#222" stroke-width="0.4" />
<line x1="369.5" y1="151.1" x2="371.0" y2="151.1" stroke="#222" stroke-width="0.4" />
<line x1="369.5" y1="148.94" x2="371.0" y2="148.94" stroke="#222" stroke-width="0.4" />
<line x1="369.5" y1="146.78" x2="371.0" y2="146.78" stroke="#222" stroke-width="0.4" />
<line x1="369.5" y1="144.62" x2="371.0" y2="144.62" stroke="#222" stroke-width="0.4" />
<line x1="369.5" y1="142.46" x2="371.0" y2="142.46" stroke="#222" stroke-width="0.4" />
<line x1="369.5" y1="140.3" x2="371.0" y2="140.3" stroke="#222" stroke-width="0.4" />
<line x1="369.5" y1="138.14" x2="371.0" y2="138.14" stroke="#222" stroke-width="0.4" />
<line x1="369.5" y1="135.98" x2="371.0" y2="135.98" stroke="#222" stroke-width="0.4" />
<line x1="369.5" y1="133.82" x2="371.0" y2="133.82" stroke="#222" stroke-width="0.4" />
<line x1="369.5" y1="131.66" x2="371.0" y2="131.66" stroke="#222" stroke-width="0.4" />
<line x1="369.5" y1="129.5" x2="371.0" y2="129.5" stroke="#222" stroke-width="0.4" />
<text x="373.0" y="197.7" font-size="8" fill="#222" textLength="9" lengthAdjust="spacingAndGlyphs">10</text>
<text transform="translate(382.5,194.1) scale(0.1)" font-size="62" fill="#222" style="stroke-width:2px">3</text>
<line x1="382.0" y1="183.5" x2="382.0" y2="186.0" stroke="#222" stroke-width="0.6" />
<text x="393.0" y="197.7" font-size="8" fill="#222" textLength="9" lengthAdjust="spacingAndGlyphs">10</text>
<text transform="translate(402.5,194.1) scale(0.1)" font-size="62" fill="#222" style="stroke-width:2px">4</text>
<line x1="402.0" y1="183.5" x2="402.0" y2="186.0" stroke="#222" stroke-width="0.6" />
<text x="413.0" y="197.7" font-size="8" fill="#222" textLength="9" lengthAdjust="spacingAndGlyphs">10</text>
<text transform="translate(422.5,194.1) scale(0.1)" font-size="62" fill="#222" style="stroke-width:2px">5</text>
<line x1="422.0" y1="183.5" x2="422.0" y2="186.0" stroke="#222" stroke-width="0.6" />
<line x1="372.5" y1="183.5" x2="372.5" y2="185.0" stroke="#222" stroke-width="0.4" />
<line x1="382.5" y1="183.5" x2="382.5" y2="185.0" stroke="#222" stroke-width="0.4" />
<line x1="392.5" y1="183.5" x2="392.5" y2="185.0" stroke="#222" stroke-width="0.4" />
<line x1="402.5" y1="183.5" x2="402.5" y2="185.0" stroke="#222" stroke-width="0.4" />
<line x1="412.5" y1="183.5" x2="412.5" y2="185.0" stroke="#222" stroke-width="0.4" />
<line x1="422.5" y1="183.5" x2="422.5" y2="185.0" stroke="#222" stroke-width="0.4" />
<path d="M458.1,182.9 L458.10,182.90 L458.43,182.90 L458.77,182.90 L459.10,182.90 L459.44,182.90 L459.77,182.90 L460.10,182.90 L460.44,182.90 L460.77,182.90 L461.11,182.90 L461.44,182.90 L461.78,182.90 L462.11,182.90 L462.44,182.90 L462.78,182.90 L463.11,182.90 L463.45,182.90 L463.78,182.90 L464.11,182.90 L464.45,182.90 L464.78,182.90 L465.12,182.90 L465.45,182.90 L465.79,182.90 L466.12,182.90 L466.45,182.90 L466.79,182.90 L467.12,182.90 L467.46,182.90 L467.79,182.90 L468.12,182.90 L468.46,182.90 L468.79,182.90 L469.13,182.90 L469.46,182.90 L469.79,182.90 L470.13,182.90 L470.46,182.90 L470.80,182.90 L471.13,182.90 L471.47,182.90 L471.80,182.90 L472.13,182.90 L472.47,182.90 L472.80,182.90 L473.14,182.90 L473.47,182.90 L473.80,182.90 L474.14,182.90 L474.47,182.90 L474.81,182.90 L475.14,182.90 L475.47,182.90 L475.81,182.90 L476.14,182.90 L476.48,182.90 L476.81,182.90 L477.15,182.59 L477.48,181.89 L477.81,181.21 L478.15,180.25 L478.48,179.63 L478.82,178.83 L479.15,176.97 L479.48,173.79 L479.82,169.85 L480.15,166.72 L480.49,162.75 L480.82,159.62 L481.16,155.39 L481.49,153.24 L481.82,150.96 L482.16,147.51 L482.49,140.76 L482.83,139.62 L483.16,131.86 L483.49,128.30 L483.83,136.71 L484.16,137.41 L484.50,147.12 L484.83,144.61 L485.16,146.66 L485.50,151.44 L485.83,150.98 L486.17,155.19 L486.50,163.52 L486.84,168.50 L487.17,174.31 L487.50,177.17 L487.84,181.08 L488.17,182.90 L488.51,182.90 L488.84,182.90 L489.17,182.90 L489.51,182.90 L489.84,182.90 L490.18,182.90 L490.51,182.90 L490.84,182.90 L491.18,182.90 L491.51,182.90 L491.85,182.90 L492.18,182.90 L492.52,182.90 L492.85,182.90 L493.18,182.90 L493.52,182.90 L493.85,182.90 L494.19,182.90 L494.52,182.90 L494.85,182.90 L495.19,182.90 L495.52,182.90 L495.86,182.90 L496.19,182.90 L496.53,182.90 L496.86,182.90 L497.19,182.90 L497.53,182.90 L497.86,182.90 L498.20,182.90 L498.53,182.90 L498.86,182.90 L499.20,182.90 L499.53,182.90 L499.87,182.90 L500.20,182.90 L500.53,182.90 L500.87,182.90 L501.20,182.90 L501.54,182.90 L501.87,182.90 L502.21,182.90 L502.54,182.90 L502.87,182.90 L503.21,182.90 L503.54,182.90 L503.88,182.90 L504.21,182.90 L504.54,182.90 L504.88,182.90 L505.21,182.90 L505.55,182.90 L505.88,182.90 L506.21,182.90 L506.55,182.90 L506.88,182.90 L507.22,182.90 L507.55,182.90 L507.89,182.90 L508.22,182.90 L508.55,182.90 L508.89,182.90 L509.22,182.90 L509.56,182.90 L509.89,182.90 L510.22,182.90 L510.56,182.90 L510.89,182.90 L511.23,182.90 L511.56,182.90 L511.90,182.90 L512.23,182.90 L512.56,182.90 L512.90,182.90 L513.23,182.90 L513.57,182.90 L513.90,182.90 L513.9,182.9 Z" fill="#98abd0" stroke="#3a5c9c" stroke-width="0.7" stroke-linejoin="round"/>
<path d="M458.1,182.9 L458.10,182.90 L458.43,182.90 L458.77,182.90 L459.10,181.82 L459.44,182.88 L459.77,180.54 L460.10,182.72 L460.44,177.49 L460.77,182.85 L461.11,180.00 L461.44,182.87 L461.78,176.99 L462.11,178.53 L462.44,182.89 L462.78,181.11 L463.11,182.83 L463.45,182.02 L463.78,178.87 L464.11,182.88 L464.45,182.83 L464.78,182.90 L465.12,182.90 L465.45,182.09 L465.79,182.87 L466.12,182.89 L466.45,180.67 L466.79,182.74 L467.12,182.64 L467.46,182.65 L467.79,178.99 L468.12,182.90 L468.46,182.90 L468.79,181.39 L469.13,179.36 L469.46,177.11 L469.79,174.48 L470.13,172.03 L470.46,172.33 L470.80,174.14 L471.13,177.25 L471.47,177.99 L471.80,178.67 L472.13,179.87 L472.47,181.21 L472.80,182.10 L473.14,182.89 L473.47,182.89 L473.80,182.88 L474.14,182.66 L474.47,181.90 L474.81,182.69 L475.14,182.38 L475.47,179.86 L475.81,179.77 L476.14,182.41 L476.48,178.34 L476.81,182.90 L477.15,181.61 L477.48,180.81 L477.81,182.46 L478.15,182.39 L478.48,182.79 L478.82,179.95 L479.15,182.85 L479.48,181.72 L479.82,180.50 L480.15,182.00 L480.49,179.97 L480.82,178.78 L481.16,177.12 L481.49,175.20 L481.82,171.40 L482.16,169.43 L482.49,166.25 L482.83,164.86 L483.16,161.88 L483.49,156.77 L483.83,157.59 L484.16,155.19 L484.50,151.77 L484.83,148.29 L485.16,145.98 L485.50,147.17 L485.83,149.70 L486.17,146.50 L486.50,143.41 L486.84,139.97 L487.17,128.30 L487.50,132.72 L487.84,140.28 L488.17,137.05 L488.51,143.83 L488.84,148.93 L489.17,150.85 L489.51,159.98 L489.84,162.03 L490.18,165.86 L490.51,170.81 L490.84,175.84 L491.18,178.12 L491.51,180.01 L491.85,181.97 L492.18,182.90 L492.52,182.90 L492.85,182.90 L493.18,182.90 L493.52,182.90 L493.85,182.90 L494.19,182.90 L494.52,182.90 L494.85,182.90 L495.19,182.90 L495.52,182.90 L495.86,182.90 L496.19,182.90 L496.53,182.90 L496.86,182.90 L497.19,182.90 L497.53,182.90 L497.86,182.90 L498.20,182.90 L498.53,182.90 L498.86,182.90 L499.20,182.90 L499.53,182.90 L499.87,182.90 L500.20,182.90 L500.53,182.90 L500.87,182.90 L501.20,182.90 L501.54,182.90 L501.87,182.90 L502.21,182.90 L502.54,182.90 L502.87,182.90 L503.21,182.90 L503.54,182.90 L503.88,182.90 L504.21,182.90 L504.54,182.90 L504.88,182.90 L505.21,182.90 L505.55,182.90 L505.88,182.90 L506.21,182.90 L506.55,182.90 L506.88,182.90 L507.22,182.90 L507.55,182.90 L507.89,182.90 L508.22,182.90 L508.55,182.90 L508.89,182.90 L509.22,182.90 L509.56,182.90 L509.89,182.90 L510.22,182.90 L510.56,182.90 L510.89,182.90 L511.23,182.90 L511.56,182.90 L511.90,182.90 L512.23,182.90 L512.56,182.90 L512.90,182.90 L513.23,182.90 L513.57,182.90 L513.90,182.90 L513.9,182.9 Z" fill="#a83060" fill-opacity="0.62" stroke="#c4123c" stroke-width="0.7" stroke-linejoin="round"/>
<rect x="457.5" y="126.5" width="57.0" height="57.0" fill="none" stroke="#111" stroke-width="1"/>
<text x="486" y="120.6" font-size="10.2" text-anchor="middle" font-weight="normal" fill="#222" >AML109</text>
<text x="452.0" y="185.6" font-size="7.4" text-anchor="end" font-weight="normal" fill="#222" textLength="5" lengthAdjust="spacingAndGlyphs" >0</text>
<line x1="455.0" y1="183.0" x2="457.5" y2="183.0" stroke="#222" stroke-width="0.6" />
<text x="452.0" y="174.79999999999998" font-size="7.4" text-anchor="end" font-weight="normal" fill="#222" textLength="10" lengthAdjust="spacingAndGlyphs" >20</text>
<line x1="455.0" y1="172.2" x2="457.5" y2="172.2" stroke="#222" stroke-width="0.6" />
<text x="452.0" y="164.0" font-size="7.4" text-anchor="end" font-weight="normal" fill="#222" textLength="10" lengthAdjust="spacingAndGlyphs" >40</text>
<line x1="455.0" y1="161.4" x2="457.5" y2="161.4" stroke="#222" stroke-width="0.6" />
<text x="452.0" y="153.2" font-size="7.4" text-anchor="end" font-weight="normal" fill="#222" textLength="10" lengthAdjust="spacingAndGlyphs" >60</text>
<line x1="455.0" y1="150.6" x2="457.5" y2="150.6" stroke="#222" stroke-width="0.6" />
<text x="452.0" y="142.4" font-size="7.4" text-anchor="end" font-weight="normal" fill="#222" textLength="10" lengthAdjust="spacingAndGlyphs" >80</text>
<line x1="455.0" y1="139.8" x2="457.5" y2="139.8" stroke="#222" stroke-width="0.6" />
<text x="452.0" y="131.6" font-size="7.4" text-anchor="end" font-weight="normal" fill="#222" textLength="15" lengthAdjust="spacingAndGlyphs" >100</text>
<line x1="455.0" y1="129.0" x2="457.5" y2="129.0" stroke="#222" stroke-width="0.6" />
<line x1="457.5" y1="183.5" x2="459.0" y2="183.5" stroke="#222" stroke-width="0.4" />
<line x1="457.5" y1="181.34" x2="459.0" y2="181.34" stroke="#222" stroke-width="0.4" />
<line x1="457.5" y1="179.18" x2="459.0" y2="179.18" stroke="#222" stroke-width="0.4" />
<line x1="457.5" y1="177.02" x2="459.0" y2="177.02" stroke="#222" stroke-width="0.4" />
<line x1="457.5" y1="174.86" x2="459.0" y2="174.86" stroke="#222" stroke-width="0.4" />
<line x1="457.5" y1="172.7" x2="459.0" y2="172.7" stroke="#222" stroke-width="0.4" />
<line x1="457.5" y1="170.54" x2="459.0" y2="170.54" stroke="#222" stroke-width="0.4" />
<line x1="457.5" y1="168.38" x2="459.0" y2="168.38" stroke="#222" stroke-width="0.4" />
<line x1="457.5" y1="166.22" x2="459.0" y2="166.22" stroke="#222" stroke-width="0.4" />
<line x1="457.5" y1="164.06" x2="459.0" y2="164.06" stroke="#222" stroke-width="0.4" />
<line x1="457.5" y1="161.9" x2="459.0" y2="161.9" stroke="#222" stroke-width="0.4" />
<line x1="457.5" y1="159.74" x2="459.0" y2="159.74" stroke="#222" stroke-width="0.4" />
<line x1="457.5" y1="157.57999999999998" x2="459.0" y2="157.57999999999998" stroke="#222" stroke-width="0.4" />
<line x1="457.5" y1="155.42000000000002" x2="459.0" y2="155.42000000000002" stroke="#222" stroke-width="0.4" />
<line x1="457.5" y1="153.26" x2="459.0" y2="153.26" stroke="#222" stroke-width="0.4" />
<line x1="457.5" y1="151.1" x2="459.0" y2="151.1" stroke="#222" stroke-width="0.4" />
<line x1="457.5" y1="148.94" x2="459.0" y2="148.94" stroke="#222" stroke-width="0.4" />
<line x1="457.5" y1="146.78" x2="459.0" y2="146.78" stroke="#222" stroke-width="0.4" />
<line x1="457.5" y1="144.62" x2="459.0" y2="144.62" stroke="#222" stroke-width="0.4" />
<line x1="457.5" y1="142.46" x2="459.0" y2="142.46" stroke="#222" stroke-width="0.4" />
<line x1="457.5" y1="140.3" x2="459.0" y2="140.3" stroke="#222" stroke-width="0.4" />
<line x1="457.5" y1="138.14" x2="459.0" y2="138.14" stroke="#222" stroke-width="0.4" />
<line x1="457.5" y1="135.98" x2="459.0" y2="135.98" stroke="#222" stroke-width="0.4" />
<line x1="457.5" y1="133.82" x2="459.0" y2="133.82" stroke="#222" stroke-width="0.4" />
<line x1="457.5" y1="131.66" x2="459.0" y2="131.66" stroke="#222" stroke-width="0.4" />
<line x1="457.5" y1="129.5" x2="459.0" y2="129.5" stroke="#222" stroke-width="0.4" />
<text x="461.0" y="197.7" font-size="8" fill="#222" textLength="9" lengthAdjust="spacingAndGlyphs">10</text>
<text transform="translate(470.5,194.1) scale(0.1)" font-size="62" fill="#222" style="stroke-width:2px">3</text>
<line x1="470.0" y1="183.5" x2="470.0" y2="186.0" stroke="#222" stroke-width="0.6" />
<text x="481.0" y="197.7" font-size="8" fill="#222" textLength="9" lengthAdjust="spacingAndGlyphs">10</text>
<text transform="translate(490.5,194.1) scale(0.1)" font-size="62" fill="#222" style="stroke-width:2px">4</text>
<line x1="490.0" y1="183.5" x2="490.0" y2="186.0" stroke="#222" stroke-width="0.6" />
<text x="501.0" y="197.7" font-size="8" fill="#222" textLength="9" lengthAdjust="spacingAndGlyphs">10</text>
<text transform="translate(510.5,194.1) scale(0.1)" font-size="62" fill="#222" style="stroke-width:2px">5</text>
<line x1="510.0" y1="183.5" x2="510.0" y2="186.0" stroke="#222" stroke-width="0.6" />
<line x1="460.5" y1="183.5" x2="460.5" y2="185.0" stroke="#222" stroke-width="0.4" />
<line x1="470.5" y1="183.5" x2="470.5" y2="185.0" stroke="#222" stroke-width="0.4" />
<line x1="480.5" y1="183.5" x2="480.5" y2="185.0" stroke="#222" stroke-width="0.4" />
<line x1="490.5" y1="183.5" x2="490.5" y2="185.0" stroke="#222" stroke-width="0.4" />
<line x1="500.5" y1="183.5" x2="500.5" y2="185.0" stroke="#222" stroke-width="0.4" />
<line x1="510.5" y1="183.5" x2="510.5" y2="185.0" stroke="#222" stroke-width="0.4" />
<text x="475.5" y="40" font-size="6.8" text-anchor="middle" font-weight="normal" fill="#111" textLength="35" lengthAdjust="spacingAndGlyphs" >Untreated</text>
<text x="503" y="42" font-size="6.8" text-anchor="middle" font-weight="normal" fill="#111" textLength="18" lengthAdjust="spacingAndGlyphs" >AraC</text>
<line x1="469.5" y1="42.6" x2="476.5" y2="45.2" stroke="#111" stroke-width="0.9" />
<path d="M479.8,46.4 L475,47.2 L476.8,43.2 Z" fill="#111"/>
<line x1="503.8" y1="43.9" x2="497" y2="46" stroke="#111" stroke-width="0.9" />
<path d="M494,46.8 L497.6,43.6 L498.6,47.6 Z" fill="#111"/>
<line x1="345.5" y1="31" x2="345.5" y2="201.5" stroke="#111" stroke-width="1" />
<path d="M345.5,27.5 L343,33.5 L348,33.5 Z" fill="#111"/>
<line x1="345.5" y1="201.5" x2="514" y2="201.5" stroke="#111" stroke-width="1" />
<path d="M518.5,201.5 L512.5,199 L512.5,204 Z" fill="#111"/>
<text transform="translate(339.7,116.4) rotate(-90)" font-size="9.8" text-anchor="middle" fill="#333" textLength="46.5" lengthAdjust="spacingAndGlyphs">% max count</text>
<text x="430" y="213.3" font-size="9.6" text-anchor="middle" font-weight="normal" fill="#333" textLength="29.8" lengthAdjust="spacingAndGlyphs" >PE-BCL6</text>
<rect x="77.5" y="259.75" width="275.25" height="85.5" fill="none" stroke="#333" stroke-width="1"/>
<line x1="77.5" y1="331.5" x2="352.75" y2="331.5" stroke="#333" stroke-width="0.9" />
<text x="75" y="348.25" font-size="8.3" text-anchor="end" font-weight="normal" fill="#222" >-0.2</text>
<text x="75" y="334.0" font-size="8.3" text-anchor="end" font-weight="normal" fill="#222" >0</text>
<text x="75" y="319.75" font-size="8.3" text-anchor="end" font-weight="normal" fill="#222" >0.2</text>
<text x="75" y="305.5" font-size="8.3" text-anchor="end" font-weight="normal" fill="#222" >0.4</text>
<text x="75" y="291.25" font-size="8.3" text-anchor="end" font-weight="normal" fill="#222" >0.6</text>
<text x="75" y="277.0" font-size="8.3" text-anchor="end" font-weight="normal" fill="#222" >0.8</text>
<text x="75" y="262.75" font-size="8.3" text-anchor="end" font-weight="normal" fill="#222" >1</text>
<line x1="146.5" y1="259.75" x2="146.5" y2="345.25" stroke="#222" stroke-width="1.1" stroke-dasharray="2.8,2" />
<line x1="214.5" y1="259.75" x2="214.5" y2="345.25" stroke="#222" stroke-width="1.1" stroke-dasharray="2.8,2" />
<line x1="284.5" y1="259.75" x2="284.5" y2="345.25" stroke="#222" stroke-width="1.1" stroke-dasharray="2.8,2" />
<rect x="89.5" y="264.75" width="31" height="12.75" fill="#fff" stroke="#333" stroke-width="0.8"/>
<text x="105" y="274.3" font-size="8" text-anchor="middle" font-weight="normal" fill="#222" textLength="17" lengthAdjust="spacingAndGlyphs" >FCM</text>
<line x1="96.5" y1="275.5" x2="113.5" y2="275.5" stroke="#333" stroke-width="0.5" />
<rect x="83.40" y="330.07" width="6.7" height="1.43" fill="#a00a2e"/>
<line x1="86.75" y1="322.95" x2="86.75" y2="330.075" stroke="#444" stroke-width="0.8" />
<line x1="84.25" y1="322.95" x2="89.25" y2="322.95" stroke="#333" stroke-width="0.9" />
<line x1="86.75" y1="330.075" x2="86.75" y2="335.775" stroke="#444" stroke-width="0.8" />
<line x1="84.25" y1="335.775" x2="89.25" y2="335.775" stroke="#333" stroke-width="0.9" />
<rect x="100.60" y="326.51" width="6.7" height="4.99" fill="#a00a2e"/>
<line x1="103.95" y1="320.1" x2="103.95" y2="326.5125" stroke="#444" stroke-width="0.8" />
<line x1="101.45" y1="320.1" x2="106.45" y2="320.1" stroke="#333" stroke-width="0.9" />
<line x1="103.95" y1="326.5125" x2="103.95" y2="332.925" stroke="#444" stroke-width="0.8" />
<line x1="101.45" y1="332.925" x2="106.45" y2="332.925" stroke="#333" stroke-width="0.9" />
<rect x="117.80" y="322.95" width="6.7" height="8.55" fill="#a00a2e"/>
<line x1="121.15" y1="316.5375" x2="121.15" y2="322.95" stroke="#444" stroke-width="0.8" />
<line x1="118.65" y1="316.5375" x2="123.65" y2="316.5375" stroke="#333" stroke-width="0.9" />
<rect x="135.00" y="321.52" width="6.7" height="9.98" fill="#a00a2e"/>
<line x1="138.35" y1="314.4" x2="138.35" y2="321.525" stroke="#444" stroke-width="0.8" />
<line x1="135.85" y1="314.4" x2="140.85" y2="314.4" stroke="#333" stroke-width="0.9" />
<rect x="152.20" y="321.52" width="6.7" height="9.98" fill="#a00a2e"/>
<line x1="155.54999999999998" y1="320.1" x2="155.54999999999998" y2="321.525" stroke="#444" stroke-width="0.8" />
<line x1="153.04999999999998" y1="320.1" x2="158.04999999999998" y2="320.1" stroke="#333" stroke-width="0.9" />
<rect x="169.40" y="320.10" width="6.7" height="11.40" fill="#a00a2e"/>
<rect x="186.60" y="312.98" width="6.7" height="18.52" fill="#a00a2e"/>
<line x1="189.95" y1="312.61875" x2="189.95" y2="312.975" stroke="#444" stroke-width="0.8" />
<line x1="187.45" y1="312.61875" x2="192.45" y2="312.61875" stroke="#333" stroke-width="0.9" />
<rect x="203.80" y="307.27" width="6.7" height="24.23" fill="#a00a2e"/>
<line x1="207.15" y1="306.91875" x2="207.15" y2="307.275" stroke="#444" stroke-width="0.8" />
<line x1="204.65" y1="306.91875" x2="209.65" y2="306.91875" stroke="#333" stroke-width="0.9" />
<rect x="221.00" y="297.30" width="6.7" height="34.20" fill="#a00a2e"/>
<line x1="224.35" y1="278.775" x2="224.35" y2="297.3" stroke="#444" stroke-width="0.8" />
<line x1="221.85" y1="278.775" x2="226.85" y2="278.775" stroke="#333" stroke-width="0.9" />
<rect x="238.20" y="297.30" width="6.7" height="34.20" fill="#a00a2e"/>
<line x1="241.54999999999998" y1="289.4625" x2="241.54999999999998" y2="297.3" stroke="#444" stroke-width="0.8" />
<line x1="239.04999999999998" y1="289.4625" x2="244.04999999999998" y2="289.4625" stroke="#333" stroke-width="0.9" />
<rect x="255.40" y="285.90" width="6.7" height="45.60" fill="#a00a2e"/>
<line x1="258.75" y1="280.9125" x2="258.75" y2="285.9" stroke="#444" stroke-width="0.8" />
<line x1="256.25" y1="280.9125" x2="261.25" y2="280.9125" stroke="#333" stroke-width="0.9" />
<rect x="272.60" y="270.94" width="6.7" height="60.56" fill="#a00a2e"/>
<line x1="275.95000000000005" y1="268.0875" x2="275.95000000000005" y2="270.9375" stroke="#444" stroke-width="0.8" />
<line x1="273.45000000000005" y1="268.0875" x2="278.45000000000005" y2="268.0875" stroke="#333" stroke-width="0.9" />
<rect x="289.80" y="331.5" width="6.7" height="3.21" fill="#a00a2e"/>
<line x1="293.15" y1="334.70625" x2="293.15" y2="338.26875" stroke="#444" stroke-width="0.8" />
<line x1="290.65" y1="338.26875" x2="295.65" y2="338.26875" stroke="#333" stroke-width="0.9" />
<rect x="307.00" y="330.43" width="6.7" height="1.07" fill="#a00a2e"/>
<line x1="310.35" y1="327.58125" x2="310.35" y2="330.43125" stroke="#444" stroke-width="0.8" />
<line x1="307.85" y1="327.58125" x2="312.85" y2="327.58125" stroke="#333" stroke-width="0.9" />
<line x1="310.35" y1="330.43125" x2="310.35" y2="333.6375" stroke="#444" stroke-width="0.8" />
<line x1="307.85" y1="333.6375" x2="312.85" y2="333.6375" stroke="#333" stroke-width="0.9" />
<rect x="324.20" y="315.11" width="6.7" height="16.39" fill="#a00a2e"/>
<line x1="327.55" y1="312.2625" x2="327.55" y2="315.1125" stroke="#444" stroke-width="0.8" />
<line x1="325.05" y1="312.2625" x2="330.05" y2="312.2625" stroke="#333" stroke-width="0.9" />
<rect x="341.40" y="310.12" width="6.7" height="21.38" fill="#a00a2e"/>
<line x1="344.75" y1="306.5625" x2="344.75" y2="310.125" stroke="#444" stroke-width="0.8" />
<line x1="342.25" y1="306.5625" x2="347.25" y2="306.5625" stroke="#333" stroke-width="0.9" />
<text x="112.5" y="356.2" font-size="8.6" text-anchor="middle" font-weight="normal" fill="#222" textLength="20" lengthAdjust="spacingAndGlyphs" >AraC</text>
<path d="M97.0,369.5 L128.0,361.75 L128.0,369.5 Z" fill="#111"/>
<line x1="87.5" y1="372.75" x2="137.5" y2="372.75" stroke="#222" stroke-width="0.9" />
<text x="112.5" y="383.7" font-size="8.6" text-anchor="middle" font-weight="normal" fill="#222" textLength="27.5" lengthAdjust="spacingAndGlyphs" >AML54</text>
<text x="181.4" y="356.2" font-size="8.6" text-anchor="middle" font-weight="normal" fill="#222" textLength="20" lengthAdjust="spacingAndGlyphs" >AraC</text>
<path d="M165.9,369.5 L196.9,361.75 L196.9,369.5 Z" fill="#111"/>
<line x1="156.4" y1="372.75" x2="206.4" y2="372.75" stroke="#222" stroke-width="0.9" />
<text x="181.4" y="383.7" font-size="8.6" text-anchor="middle" font-weight="normal" fill="#222" textLength="27.5" lengthAdjust="spacingAndGlyphs" >AML74</text>
<text x="251.4" y="356.2" font-size="8.6" text-anchor="middle" font-weight="normal" fill="#222" textLength="20" lengthAdjust="spacingAndGlyphs" >AraC</text>
<path d="M235.9,369.5 L266.9,361.75 L266.9,369.5 Z" fill="#111"/>
<line x1="226.4" y1="372.75" x2="276.4" y2="372.75" stroke="#222" stroke-width="0.9" />
<text x="251.4" y="383.7" font-size="8.6" text-anchor="middle" font-weight="normal" fill="#222" textLength="27.5" lengthAdjust="spacingAndGlyphs" >AML95</text>
<text x="320.3" y="356.2" font-size="8.6" text-anchor="middle" font-weight="normal" fill="#222" textLength="20" lengthAdjust="spacingAndGlyphs" >AraC</text>
<path d="M304.8,369.5 L335.8,361.75 L335.8,369.5 Z" fill="#111"/>
<line x1="295.3" y1="372.75" x2="345.3" y2="372.75" stroke="#222" stroke-width="0.9" />
<text x="320.3" y="383.7" font-size="8.6" text-anchor="middle" font-weight="normal" fill="#222" textLength="31.5" lengthAdjust="spacingAndGlyphs" >AML109</text>
<text transform="translate(26.6,302.5) rotate(-90)" font-size="9.9" text-anchor="middle" fill="#333" textLength="78.5" lengthAdjust="spacingAndGlyphs">Relative BCL6 change</text>
<text transform="translate(37.4,301.5) rotate(-90)" font-size="9.9" text-anchor="middle" fill="#333" textLength="98.5" lengthAdjust="spacingAndGlyphs">(normalized to untreated)</text>
<rect x="41.5" y="245.25" width="12" height="114.75" fill="none" stroke="#222" stroke-width="0.9"/>
<text transform="translate(50.3,355) rotate(-90)" font-size="8.8" text-anchor="start" fill="#333" textLength="39" lengthAdjust="spacingAndGlyphs">Decrease&lt;</text>
<text transform="translate(50.3,253.6) rotate(-90)" font-size="8.8" text-anchor="end" fill="#333" textLength="41" lengthAdjust="spacingAndGlyphs">&gt;Increase</text>
<text x="398.75" y="243.5" font-size="8.5" text-anchor="middle" font-weight="normal" fill="#222" textLength="48.5" lengthAdjust="spacingAndGlyphs" >Sublethal Rx</text>
<path d="M395,248.3 L400.3,245.9 L401.5,246.6 L399.9,249.1 L403.3,250.7 L402.8,252.6 L408.4,259 L400,254.8 L399.4,253 L396.6,251.7 L397.9,249.7 Z" fill="#0f1f4d" stroke="#2a4a8a" stroke-width="0.35"/>
<text x="383.1" y="268.2" font-size="8.5" text-anchor="middle" font-weight="normal" fill="#222" textLength="18.75" lengthAdjust="spacingAndGlyphs" >AML</text>
<text x="383.1" y="278.2" font-size="8.5" text-anchor="middle" font-weight="normal" fill="#222" textLength="18.75" lengthAdjust="spacingAndGlyphs" >Cells</text>
<line x1="394" y1="267.6" x2="402.5" y2="267.6" stroke="#111" stroke-width="1.1" />
<path d="M405.8,267.6 L401.3,265.4 L401.3,269.8 Z" fill="#111"/>
<path d="M418.5,270.5 Q422.5,273.5 419.5,275 Q416,276.2 411.5,275.6" fill="none" stroke="#b0b0b0" stroke-width="0.8"/>
<g fill="#e9e9e9" stroke="#b0b0b0" stroke-width="0.5"><ellipse cx="413" cy="268.6" rx="5.8" ry="4.3"/><path d="M405,267.5 Q407,263.5 410.5,264.5 L411,270 Q408,271 405,267.5 Z"/><ellipse cx="408.6" cy="263.8" rx="1.5" ry="1.2"/></g>
<path d="M410,272.5 L409,274.5 M415,272.8 L415.5,274.5" stroke="#b0b0b0" stroke-width="0.6"/>
<line x1="419.2" y1="267.6" x2="426.2" y2="267.6" stroke="#111" stroke-width="1.1" />
<path d="M429.5,267.6 L425,265.4 L425,269.8 Z" fill="#111"/>
<text x="446.75" y="262.3" font-size="8.5" text-anchor="middle" font-weight="normal" fill="#222" textLength="48.5" lengthAdjust="spacingAndGlyphs" >Engraftment</text>
<text x="446.75" y="272.3" font-size="8.5" text-anchor="middle" font-weight="normal" fill="#222" textLength="31.5" lengthAdjust="spacingAndGlyphs" >Analysis</text>
<text x="446.75" y="282.5" font-size="8.5" text-anchor="middle" font-weight="normal" fill="#222" textLength="55.5" lengthAdjust="spacingAndGlyphs" >(12-16 Weeks)</text>
<line x1="470.5" y1="267.5" x2="479.5" y2="267.5" stroke="#111" stroke-width="0.9" />
<path d="M482.5,267.5 L478,265.2 L478,269.8 Z" fill="#111"/>
<line x1="475.8" y1="284.2" x2="475.8" y2="273" stroke="#111" stroke-width="0.9" />
<path d="M475.8,270 L473.6,274.5 L478,274.5 Z" fill="#111"/>
<text x="475.8" y="294.3" font-size="8.5" text-anchor="middle" font-weight="normal" fill="#222" textLength="19.5" lengthAdjust="spacingAndGlyphs" >AraC</text>
<text x="499" y="267.3" font-size="8.5" text-anchor="middle" font-weight="normal" fill="#222" textLength="19.5" lengthAdjust="spacingAndGlyphs" >BMC</text>
<text x="499.3" y="277.3" font-size="8.5" text-anchor="middle" font-weight="normal" fill="#222" textLength="29" lengthAdjust="spacingAndGlyphs" >Harvest</text>
<line x1="409.5" y1="320" x2="409.5" y2="408.25" stroke="#222" stroke-width="1" />
<line x1="409.5" y1="408.25" x2="495.3" y2="408.25" stroke="#222" stroke-width="1" />
<line x1="406.5" y1="408.25" x2="409.5" y2="408.25" stroke="#222" stroke-width="0.8" />
<text x="403.8" y="411.25" font-size="8.3" text-anchor="end" font-weight="normal" fill="#222" >0.0</text>
<line x1="406.5" y1="386.75" x2="409.5" y2="386.75" stroke="#222" stroke-width="0.8" />
<text x="403.8" y="389.75" font-size="8.3" text-anchor="end" font-weight="normal" fill="#222" >0.5</text>
<line x1="406.5" y1="365.25" x2="409.5" y2="365.25" stroke="#222" stroke-width="0.8" />
<text x="403.8" y="368.25" font-size="8.3" text-anchor="end" font-weight="normal" fill="#222" >1.0</text>
<line x1="406.5" y1="343.75" x2="409.5" y2="343.75" stroke="#222" stroke-width="0.8" />
<text x="403.8" y="346.75" font-size="8.3" text-anchor="end" font-weight="normal" fill="#222" >1.5</text>
<line x1="406.5" y1="322.25" x2="409.5" y2="322.25" stroke="#222" stroke-width="0.8" />
<text x="403.8" y="325.25" font-size="8.3" text-anchor="end" font-weight="normal" fill="#222" >2.0</text>
<line x1="430.7" y1="408.25" x2="430.7" y2="411.25" stroke="#222" stroke-width="0.8" />
<line x1="473.8" y1="408.25" x2="473.8" y2="411.25" stroke="#222" stroke-width="0.8" />
<text x="430.7" y="423" font-size="8.3" text-anchor="middle" font-weight="normal" fill="#222" textLength="27.5" lengthAdjust="spacingAndGlyphs" >Vehicle</text>
<text x="473.8" y="423" font-size="8.3" text-anchor="middle" font-weight="normal" fill="#222" textLength="23" lengthAdjust="spacingAndGlyphs" >Ara-C</text>
<text transform="translate(385.3,364) rotate(-90)" font-size="10" text-anchor="middle" fill="#333" textLength="71.5" lengthAdjust="spacingAndGlyphs">Relative BCL6 (MFI)</text>
<line x1="410" y1="365.5" x2="495" y2="365.5" stroke="#222" stroke-width="1.2" stroke-dasharray="3.4,2.6" />
<path d="M430.7,343 L430.7,317.5 L473.8,317.5 L473.8,323.5" fill="none" stroke="#444" stroke-width="0.9"/>
<text x="450.5" y="326" font-size="7.6" text-anchor="middle" font-weight="normal" fill="#222" textLength="30.5" lengthAdjust="spacingAndGlyphs" ><tspan font-style="italic">p</tspan>=0.001</text>
<line x1="415.7" y1="365.5" x2="445" y2="365.5" stroke="#222" stroke-width="1" />
<line x1="423" y1="358.8" x2="438" y2="358.8" stroke="#222" stroke-width="1" />
<line x1="423" y1="372.6" x2="438" y2="372.6" stroke="#222" stroke-width="1" />
<line x1="430.7" y1="358.8" x2="430.7" y2="372.6" stroke="#222" stroke-width="1" />
<circle cx="430.75" cy="353.75" r="2.8" fill="#a00a2e"/>
<circle cx="426.75" cy="363.25" r="2.8" fill="#a00a2e"/>
<circle cx="418.75" cy="368.75" r="2.8" fill="#a00a2e"/>
<circle cx="434.5" cy="368" r="2.8" fill="#a00a2e"/>
<circle cx="442" cy="365.5" r="2.8" fill="#a00a2e"/>
<circle cx="430.75" cy="373.75" r="2.8" fill="#a00a2e"/>
<line x1="460" y1="343" x2="488.4" y2="343" stroke="#222" stroke-width="1" />
<line x1="466.5" y1="335" x2="481.5" y2="335" stroke="#222" stroke-width="1" />
<line x1="466.5" y1="351.1" x2="481.5" y2="351.1" stroke="#222" stroke-width="1" />
<line x1="473.8" y1="335" x2="473.8" y2="351.1" stroke="#222" stroke-width="1" />
<rect x="471.15" y="329.4" width="5.2" height="5.2" fill="#2c4a7f"/>
<rect x="465.4" y="342.4" width="5.2" height="5.2" fill="#2c4a7f"/>
<rect x="476.65" y="341.15" width="5.2" height="5.2" fill="#2c4a7f"/>
<rect x="471.15" y="348.65" width="5.2" height="5.2" fill="#2c4a7f"/>
<line x1="77.6" y1="435" x2="77.6" y2="585" stroke="#222" stroke-width="1.1" />
<line x1="78.25" y1="585" x2="409.5" y2="585" stroke="#222" stroke-width="1.4" />
<line x1="75.25" y1="585.0" x2="78.25" y2="585.0" stroke="#222" stroke-width="0.8" />
<text x="71.3" y="588.0" font-size="8.3" text-anchor="end" font-weight="normal" fill="#222" >0.0</text>
<line x1="75.25" y1="542.0" x2="78.25" y2="542.0" stroke="#222" stroke-width="0.8" />
<text x="71.3" y="545.0" font-size="8.3" text-anchor="end" font-weight="normal" fill="#222" >0.5</text>
<line x1="75.25" y1="499.0" x2="78.25" y2="499.0" stroke="#222" stroke-width="0.8" />
<text x="71.3" y="502.0" font-size="8.3" text-anchor="end" font-weight="normal" fill="#222" >1.0</text>
<line x1="75.25" y1="456.0" x2="78.25" y2="456.0" stroke="#222" stroke-width="0.8" />
<text x="71.3" y="459.0" font-size="8.3" text-anchor="end" font-weight="normal" fill="#222" >1.5</text>
<rect x="84.25" y="471.25" width="10.75" height="113.75" fill="#a00a2e"/>
<line x1="89.625" y1="470" x2="89.625" y2="471.25" stroke="#222" stroke-width="1" />
<line x1="86.425" y1="470" x2="92.825" y2="470" stroke="#222" stroke-width="1.3" />
<rect x="102.35" y="478.25" width="10.75" height="106.75" fill="#2c4a7f"/>
<line x1="107.725" y1="476.25" x2="107.725" y2="478.25" stroke="#222" stroke-width="1" />
<line x1="104.52499999999999" y1="476.25" x2="110.925" y2="476.25" stroke="#222" stroke-width="1.3" />
<rect x="120.45" y="512" width="10.75" height="73" fill="#6aa84a"/>
<line x1="125.825" y1="509.5" x2="125.825" y2="512" stroke="#222" stroke-width="1" />
<line x1="122.625" y1="509.5" x2="129.025" y2="509.5" stroke="#222" stroke-width="1.3" />
<rect x="138.55" y="491.25" width="10.75" height="93.75" fill="#4d2a69"/>
<line x1="143.925" y1="488.25" x2="143.925" y2="491.25" stroke="#222" stroke-width="1" />
<line x1="140.72500000000002" y1="488.25" x2="147.125" y2="488.25" stroke="#222" stroke-width="1.3" />
<rect x="156.65" y="520" width="10.75" height="65" fill="#e08b1c"/>
<line x1="162.025" y1="518.75" x2="162.025" y2="520" stroke="#222" stroke-width="1" />
<line x1="158.82500000000002" y1="518.75" x2="165.225" y2="518.75" stroke="#222" stroke-width="1.3" />
<rect x="174.75" y="530" width="10.75" height="55" fill="#356a52"/>
<line x1="180.125" y1="525.5" x2="180.125" y2="530" stroke="#222" stroke-width="1" />
<line x1="176.925" y1="525.5" x2="183.325" y2="525.5" stroke="#222" stroke-width="1.3" />
<rect x="192.85" y="453.75" width="10.75" height="131.25" fill="#a00a2e"/>
<line x1="198.22500000000002" y1="450.5" x2="198.22500000000002" y2="453.75" stroke="#222" stroke-width="1" />
<line x1="195.02500000000003" y1="450.5" x2="201.425" y2="450.5" stroke="#222" stroke-width="1.3" />
<rect x="210.95" y="466.25" width="10.75" height="118.75" fill="#2c4a7f"/>
<line x1="216.32500000000002" y1="463" x2="216.32500000000002" y2="466.25" stroke="#222" stroke-width="1" />
<line x1="213.12500000000003" y1="463" x2="219.525" y2="463" stroke="#222" stroke-width="1.3" />
<rect x="229.05" y="502" width="10.75" height="83" fill="#6aa84a"/>
<line x1="234.425" y1="496.75" x2="234.425" y2="502" stroke="#222" stroke-width="1" />
<line x1="231.22500000000002" y1="496.75" x2="237.625" y2="496.75" stroke="#222" stroke-width="1.3" />
<rect x="247.15" y="487.5" width="10.75" height="97.5" fill="#4d2a69"/>
<line x1="252.525" y1="486.25" x2="252.525" y2="487.5" stroke="#222" stroke-width="1" />
<line x1="249.32500000000002" y1="486.25" x2="255.725" y2="486.25" stroke="#222" stroke-width="1.3" />
<rect x="265.25" y="512" width="10.75" height="73" fill="#e08b1c"/>
<line x1="270.625" y1="498.25" x2="270.625" y2="512" stroke="#222" stroke-width="1" />
<line x1="267.425" y1="498.25" x2="273.825" y2="498.25" stroke="#222" stroke-width="1.3" />
<rect x="283.35" y="516.75" width="10.75" height="68.25" fill="#356a52"/>
<line x1="288.725" y1="511.75" x2="288.725" y2="516.75" stroke="#222" stroke-width="1" />
<line x1="285.52500000000003" y1="511.75" x2="291.925" y2="511.75" stroke="#222" stroke-width="1.3" />
<rect x="301.45" y="516.25" width="10.75" height="68.75" fill="#a00a2e"/>
<line x1="306.82500000000005" y1="510.75" x2="306.82500000000005" y2="516.25" stroke="#222" stroke-width="1" />
<line x1="303.62500000000006" y1="510.75" x2="310.02500000000003" y2="510.75" stroke="#222" stroke-width="1.3" />
<rect x="319.55" y="463" width="10.75" height="122" fill="#2c4a7f"/>
<line x1="324.925" y1="460" x2="324.925" y2="463" stroke="#222" stroke-width="1" />
<line x1="321.725" y1="460" x2="328.125" y2="460" stroke="#222" stroke-width="1.3" />
<rect x="337.65" y="500" width="10.75" height="85" fill="#6aa84a"/>
<line x1="343.02500000000003" y1="497.5" x2="343.02500000000003" y2="500" stroke="#222" stroke-width="1" />
<line x1="339.82500000000005" y1="497.5" x2="346.225" y2="497.5" stroke="#222" stroke-width="1.3" />
<rect x="355.75" y="473.75" width="10.75" height="111.25" fill="#4d2a69"/>
<line x1="361.125" y1="452.5" x2="361.125" y2="473.75" stroke="#222" stroke-width="1" />
<line x1="357.925" y1="452.5" x2="364.325" y2="452.5" stroke="#222" stroke-width="1.3" />
<rect x="373.85" y="483" width="10.75" height="102" fill="#e08b1c"/>
<line x1="379.225" y1="480" x2="379.225" y2="483" stroke="#222" stroke-width="1" />
<line x1="376.02500000000003" y1="480" x2="382.425" y2="480" stroke="#222" stroke-width="1.3" />
<rect x="391.95" y="540" width="10.75" height="45" fill="#356a52"/>
<line x1="397.32500000000005" y1="538" x2="397.32500000000005" y2="540" stroke="#222" stroke-width="1" />
<line x1="394.12500000000006" y1="538" x2="400.52500000000003" y2="538" stroke="#222" stroke-width="1.3" />
<line x1="189.5" y1="434" x2="189.5" y2="585" stroke="#333" stroke-width="1.35" stroke-dasharray="2.8,2" />
<line x1="298.25" y1="434" x2="298.25" y2="585" stroke="#333" stroke-width="1.35" stroke-dasharray="2.8,2" />
<line x1="78.25" y1="499.25" x2="414.5" y2="499.25" stroke="#333" stroke-width="1.2" stroke-dasharray="3.7,2.6" />
<text x="132.75" y="448.1" font-size="8.3" text-anchor="middle" font-weight="normal" fill="#222" textLength="28" lengthAdjust="spacingAndGlyphs" >MV4-11</text>
<text x="239.75" y="448.1" font-size="8.3" text-anchor="middle" font-weight="normal" fill="#222" textLength="19.5" lengthAdjust="spacingAndGlyphs" >U937</text>
<text x="352.5" y="448.1" font-size="8.3" text-anchor="middle" font-weight="normal" fill="#222" textLength="15" lengthAdjust="spacingAndGlyphs" >TUR</text>
<text x="161.9" y="471" font-size="8.3" text-anchor="middle" font-weight="normal" fill="#222" textLength="36.25" lengthAdjust="spacingAndGlyphs" >Untreated</text>
<line x1="163.75" y1="477.5" x2="163.75" y2="494" stroke="#111" stroke-width="0.9" />
<path d="M163.75,498 L161.5,492.5 L166,492.5 Z" fill="#111"/>
<text transform="translate(40.7,510) rotate(-90)" font-size="9.8" text-anchor="middle" fill="#333" textLength="121" lengthAdjust="spacingAndGlyphs">Relative BCL6 protein level (MFI)</text>
<text transform="translate(53.2,510) rotate(-90)" font-size="9.8" text-anchor="middle" fill="#333" textLength="49" lengthAdjust="spacingAndGlyphs">(/ untreated)</text>
<text x="71.3" y="596.25" font-size="8.6" text-anchor="end" font-weight="normal" fill="#222" >AraC</text>
<line x1="87.025" y1="593.25" x2="92.225" y2="593.25" stroke="#333" stroke-width="1" />
<line x1="89.625" y1="590.65" x2="89.625" y2="595.85" stroke="#333" stroke-width="1" />
<line x1="106.425" y1="593.25" x2="109.02499999999999" y2="593.25" stroke="#333" stroke-width="1" />
<line x1="124.525" y1="593.25" x2="127.125" y2="593.25" stroke="#333" stroke-width="1" />
<line x1="142.625" y1="593.25" x2="145.22500000000002" y2="593.25" stroke="#333" stroke-width="1" />
<line x1="160.725" y1="593.25" x2="163.32500000000002" y2="593.25" stroke="#333" stroke-width="1" />
<line x1="178.825" y1="593.25" x2="181.425" y2="593.25" stroke="#333" stroke-width="1" />
<line x1="195.62500000000003" y1="593.25" x2="200.82500000000002" y2="593.25" stroke="#333" stroke-width="1" />
<line x1="198.22500000000002" y1="590.65" x2="198.22500000000002" y2="595.85" stroke="#333" stroke-width="1" />
<line x1="215.025" y1="593.25" x2="217.62500000000003" y2="593.25" stroke="#333" stroke-width="1" />
<line x1="233.125" y1="593.25" x2="235.72500000000002" y2="593.25" stroke="#333" stroke-width="1" />
<line x1="251.225" y1="593.25" x2="253.82500000000002" y2="593.25" stroke="#333" stroke-width="1" />
<line x1="269.325" y1="593.25" x2="271.925" y2="593.25" stroke="#333" stroke-width="1" />
<line x1="287.425" y1="593.25" x2="290.02500000000003" y2="593.25" stroke="#333" stroke-width="1" />
<line x1="304.225" y1="593.25" x2="309.42500000000007" y2="593.25" stroke="#333" stroke-width="1" />
<line x1="306.82500000000005" y1="590.65" x2="306.82500000000005" y2="595.85" stroke="#333" stroke-width="1" />
<line x1="323.625" y1="593.25" x2="326.225" y2="593.25" stroke="#333" stroke-width="1" />
<line x1="341.725" y1="593.25" x2="344.32500000000005" y2="593.25" stroke="#333" stroke-width="1" />
<line x1="359.825" y1="593.25" x2="362.425" y2="593.25" stroke="#333" stroke-width="1" />
<line x1="377.925" y1="593.25" x2="380.52500000000003" y2="593.25" stroke="#333" stroke-width="1" />
<line x1="396.02500000000003" y1="593.25" x2="398.62500000000006" y2="593.25" stroke="#333" stroke-width="1" />
<text x="71.3" y="608.9" font-size="8.6" text-anchor="end" font-weight="normal" fill="#222" >Doxo</text>
<line x1="88.325" y1="605.9" x2="90.925" y2="605.9" stroke="#333" stroke-width="1" />
<line x1="105.125" y1="605.9" x2="110.32499999999999" y2="605.9" stroke="#333" stroke-width="1" />
<line x1="107.725" y1="603.3" x2="107.725" y2="608.5" stroke="#333" stroke-width="1" />
<line x1="124.525" y1="605.9" x2="127.125" y2="605.9" stroke="#333" stroke-width="1" />
<line x1="142.625" y1="605.9" x2="145.22500000000002" y2="605.9" stroke="#333" stroke-width="1" />
<line x1="160.725" y1="605.9" x2="163.32500000000002" y2="605.9" stroke="#333" stroke-width="1" />
<line x1="178.825" y1="605.9" x2="181.425" y2="605.9" stroke="#333" stroke-width="1" />
<line x1="196.925" y1="605.9" x2="199.52500000000003" y2="605.9" stroke="#333" stroke-width="1" />
<line x1="213.72500000000002" y1="605.9" x2="218.925" y2="605.9" stroke="#333" stroke-width="1" />
<line x1="216.32500000000002" y1="603.3" x2="216.32500000000002" y2="608.5" stroke="#333" stroke-width="1" />
<line x1="233.125" y1="605.9" x2="235.72500000000002" y2="605.9" stroke="#333" stroke-width="1" />
<line x1="251.225" y1="605.9" x2="253.82500000000002" y2="605.9" stroke="#333" stroke-width="1" />
<line x1="269.325" y1="605.9" x2="271.925" y2="605.9" stroke="#333" stroke-width="1" />
<line x1="287.425" y1="605.9" x2="290.02500000000003" y2="605.9" stroke="#333" stroke-width="1" />
<line x1="305.52500000000003" y1="605.9" x2="308.12500000000006" y2="605.9" stroke="#333" stroke-width="1" />
<line x1="322.325" y1="605.9" x2="327.52500000000003" y2="605.9" stroke="#333" stroke-width="1" />
<line x1="324.925" y1="603.3" x2="324.925" y2="608.5" stroke="#333" stroke-width="1" />
<line x1="341.725" y1="605.9" x2="344.32500000000005" y2="605.9" stroke="#333" stroke-width="1" />
<line x1="359.825" y1="605.9" x2="362.425" y2="605.9" stroke="#333" stroke-width="1" />
<line x1="377.925" y1="605.9" x2="380.52500000000003" y2="605.9" stroke="#333" stroke-width="1" />
<line x1="396.02500000000003" y1="605.9" x2="398.62500000000006" y2="605.9" stroke="#333" stroke-width="1" />
<text x="71.3" y="621.55" font-size="8.6" text-anchor="end" font-weight="normal" fill="#222" >Lestaur</text>
<line x1="88.325" y1="618.55" x2="90.925" y2="618.55" stroke="#333" stroke-width="1" />
<line x1="106.425" y1="618.55" x2="109.02499999999999" y2="618.55" stroke="#333" stroke-width="1" />
<line x1="123.22500000000001" y1="618.55" x2="128.425" y2="618.55" stroke="#333" stroke-width="1" />
<line x1="125.825" y1="615.9499999999999" x2="125.825" y2="621.15" stroke="#333" stroke-width="1" />
<line x1="142.625" y1="618.55" x2="145.22500000000002" y2="618.55" stroke="#333" stroke-width="1" />
<line x1="160.725" y1="618.55" x2="163.32500000000002" y2="618.55" stroke="#333" stroke-width="1" />
<line x1="178.825" y1="618.55" x2="181.425" y2="618.55" stroke="#333" stroke-width="1" />
<line x1="196.925" y1="618.55" x2="199.52500000000003" y2="618.55" stroke="#333" stroke-width="1" />
<line x1="215.025" y1="618.55" x2="217.62500000000003" y2="618.55" stroke="#333" stroke-width="1" />
<line x1="231.82500000000002" y1="618.55" x2="237.025" y2="618.55" stroke="#333" stroke-width="1" />
<line x1="234.425" y1="615.9499999999999" x2="234.425" y2="621.15" stroke="#333" stroke-width="1" />
<line x1="251.225" y1="618.55" x2="253.82500000000002" y2="618.55" stroke="#333" stroke-width="1" />
<line x1="269.325" y1="618.55" x2="271.925" y2="618.55" stroke="#333" stroke-width="1" />
<line x1="287.425" y1="618.55" x2="290.02500000000003" y2="618.55" stroke="#333" stroke-width="1" />
<line x1="305.52500000000003" y1="618.55" x2="308.12500000000006" y2="618.55" stroke="#333" stroke-width="1" />
<line x1="323.625" y1="618.55" x2="326.225" y2="618.55" stroke="#333" stroke-width="1" />
<line x1="340.425" y1="618.55" x2="345.62500000000006" y2="618.55" stroke="#333" stroke-width="1" />
<line x1="343.02500000000003" y1="615.9499999999999" x2="343.02500000000003" y2="621.15" stroke="#333" stroke-width="1" />
<line x1="359.825" y1="618.55" x2="362.425" y2="618.55" stroke="#333" stroke-width="1" />
<line x1="377.925" y1="618.55" x2="380.52500000000003" y2="618.55" stroke="#333" stroke-width="1" />
<line x1="396.02500000000003" y1="618.55" x2="398.62500000000006" y2="618.55" stroke="#333" stroke-width="1" />
<text x="71.3" y="634.2" font-size="8.6" text-anchor="end" font-weight="normal" fill="#222" >TPA</text>
<line x1="88.325" y1="631.2" x2="90.925" y2="631.2" stroke="#333" stroke-width="1" />
<line x1="106.425" y1="631.2" x2="109.02499999999999" y2="631.2" stroke="#333" stroke-width="1" />
<line x1="124.525" y1="631.2" x2="127.125" y2="631.2" stroke="#333" stroke-width="1" />
<line x1="141.32500000000002" y1="631.2" x2="146.525" y2="631.2" stroke="#333" stroke-width="1" />
<line x1="143.925" y1="628.6" x2="143.925" y2="633.8000000000001" stroke="#333" stroke-width="1" />
<line x1="160.725" y1="631.2" x2="163.32500000000002" y2="631.2" stroke="#333" stroke-width="1" />
<line x1="178.825" y1="631.2" x2="181.425" y2="631.2" stroke="#333" stroke-width="1" />
<line x1="196.925" y1="631.2" x2="199.52500000000003" y2="631.2" stroke="#333" stroke-width="1" />
<line x1="215.025" y1="631.2" x2="217.62500000000003" y2="631.2" stroke="#333" stroke-width="1" />
<line x1="233.125" y1="631.2" x2="235.72500000000002" y2="631.2" stroke="#333" stroke-width="1" />
<line x1="249.925" y1="631.2" x2="255.125" y2="631.2" stroke="#333" stroke-width="1" />
<line x1="252.525" y1="628.6" x2="252.525" y2="633.8000000000001" stroke="#333" stroke-width="1" />
<line x1="269.325" y1="631.2" x2="271.925" y2="631.2" stroke="#333" stroke-width="1" />
<line x1="287.425" y1="631.2" x2="290.02500000000003" y2="631.2" stroke="#333" stroke-width="1" />
<line x1="305.52500000000003" y1="631.2" x2="308.12500000000006" y2="631.2" stroke="#333" stroke-width="1" />
<line x1="323.625" y1="631.2" x2="326.225" y2="631.2" stroke="#333" stroke-width="1" />
<line x1="341.725" y1="631.2" x2="344.32500000000005" y2="631.2" stroke="#333" stroke-width="1" />
<line x1="358.525" y1="631.2" x2="363.725" y2="631.2" stroke="#333" stroke-width="1" />
<line x1="361.125" y1="628.6" x2="361.125" y2="633.8000000000001" stroke="#333" stroke-width="1" />
<line x1="377.925" y1="631.2" x2="380.52500000000003" y2="631.2" stroke="#333" stroke-width="1" />
<line x1="396.02500000000003" y1="631.2" x2="398.62500000000006" y2="631.2" stroke="#333" stroke-width="1" />
<text x="71.3" y="646.85" font-size="8.6" text-anchor="end" font-weight="normal" fill="#222" >SAHA</text>
<line x1="88.325" y1="643.85" x2="90.925" y2="643.85" stroke="#333" stroke-width="1" />
<line x1="106.425" y1="643.85" x2="109.02499999999999" y2="643.85" stroke="#333" stroke-width="1" />
<line x1="124.525" y1="643.85" x2="127.125" y2="643.85" stroke="#333" stroke-width="1" />
<line x1="142.625" y1="643.85" x2="145.22500000000002" y2="643.85" stroke="#333" stroke-width="1" />
<line x1="159.425" y1="643.85" x2="164.625" y2="643.85" stroke="#333" stroke-width="1" />
<line x1="162.025" y1="641.25" x2="162.025" y2="646.45" stroke="#333" stroke-width="1" />
<line x1="178.825" y1="643.85" x2="181.425" y2="643.85" stroke="#333" stroke-width="1" />
<line x1="196.925" y1="643.85" x2="199.52500000000003" y2="643.85" stroke="#333" stroke-width="1" />
<line x1="215.025" y1="643.85" x2="217.62500000000003" y2="643.85" stroke="#333" stroke-width="1" />
<line x1="233.125" y1="643.85" x2="235.72500000000002" y2="643.85" stroke="#333" stroke-width="1" />
<line x1="251.225" y1="643.85" x2="253.82500000000002" y2="643.85" stroke="#333" stroke-width="1" />
<line x1="268.025" y1="643.85" x2="273.225" y2="643.85" stroke="#333" stroke-width="1" />
<line x1="270.625" y1="641.25" x2="270.625" y2="646.45" stroke="#333" stroke-width="1" />
<line x1="287.425" y1="643.85" x2="290.02500000000003" y2="643.85" stroke="#333" stroke-width="1" />
<line x1="305.52500000000003" y1="643.85" x2="308.12500000000006" y2="643.85" stroke="#333" stroke-width="1" />
<line x1="323.625" y1="643.85" x2="326.225" y2="643.85" stroke="#333" stroke-width="1" />
<line x1="341.725" y1="643.85" x2="344.32500000000005" y2="643.85" stroke="#333" stroke-width="1" />
<line x1="359.825" y1="643.85" x2="362.425" y2="643.85" stroke="#333" stroke-width="1" />
<line x1="376.625" y1="643.85" x2="381.82500000000005" y2="643.85" stroke="#333" stroke-width="1" />
<line x1="379.225" y1="641.25" x2="379.225" y2="646.45" stroke="#333" stroke-width="1" />
<line x1="396.02500000000003" y1="643.85" x2="398.62500000000006" y2="643.85" stroke="#333" stroke-width="1" />
<text x="71.3" y="659.5" font-size="8.6" text-anchor="end" font-weight="normal" fill="#222" >AZA</text>
<line x1="88.325" y1="656.5" x2="90.925" y2="656.5" stroke="#333" stroke-width="1" />
<line x1="106.425" y1="656.5" x2="109.02499999999999" y2="656.5" stroke="#333" stroke-width="1" />
<line x1="124.525" y1="656.5" x2="127.125" y2="656.5" stroke="#333" stroke-width="1" />
<line x1="142.625" y1="656.5" x2="145.22500000000002" y2="656.5" stroke="#333" stroke-width="1" />
<line x1="160.725" y1="656.5" x2="163.32500000000002" y2="656.5" stroke="#333" stroke-width="1" />
<line x1="177.525" y1="656.5" x2="182.725" y2="656.5" stroke="#333" stroke-width="1" />
<line x1="180.125" y1="653.9" x2="180.125" y2="659.1" stroke="#333" stroke-width="1" />
<line x1="196.925" y1="656.5" x2="199.52500000000003" y2="656.5" stroke="#333" stroke-width="1" />
<line x1="215.025" y1="656.5" x2="217.62500000000003" y2="656.5" stroke="#333" stroke-width="1" />
<line x1="233.125" y1="656.5" x2="235.72500000000002" y2="656.5" stroke="#333" stroke-width="1" />
<line x1="251.225" y1="656.5" x2="253.82500000000002" y2="656.5" stroke="#333" stroke-width="1" />
<line x1="269.325" y1="656.5" x2="271.925" y2="656.5" stroke="#333" stroke-width="1" />
<line x1="286.125" y1="656.5" x2="291.32500000000005" y2="656.5" stroke="#333" stroke-width="1" />
<line x1="288.725" y1="653.9" x2="288.725" y2="659.1" stroke="#333" stroke-width="1" />
<line x1="305.52500000000003" y1="656.5" x2="308.12500000000006" y2="656.5" stroke="#333" stroke-width="1" />
<line x1="323.625" y1="656.5" x2="326.225" y2="656.5" stroke="#333" stroke-width="1" />
<line x1="341.725" y1="656.5" x2="344.32500000000005" y2="656.5" stroke="#333" stroke-width="1" />
<line x1="359.825" y1="656.5" x2="362.425" y2="656.5" stroke="#333" stroke-width="1" />
<line x1="377.925" y1="656.5" x2="380.52500000000003" y2="656.5" stroke="#333" stroke-width="1" />
<line x1="394.725" y1="656.5" x2="399.92500000000007" y2="656.5" stroke="#333" stroke-width="1" />
<line x1="397.32500000000005" y1="653.9" x2="397.32500000000005" y2="659.1" stroke="#333" stroke-width="1" />
</svg></body></html>
